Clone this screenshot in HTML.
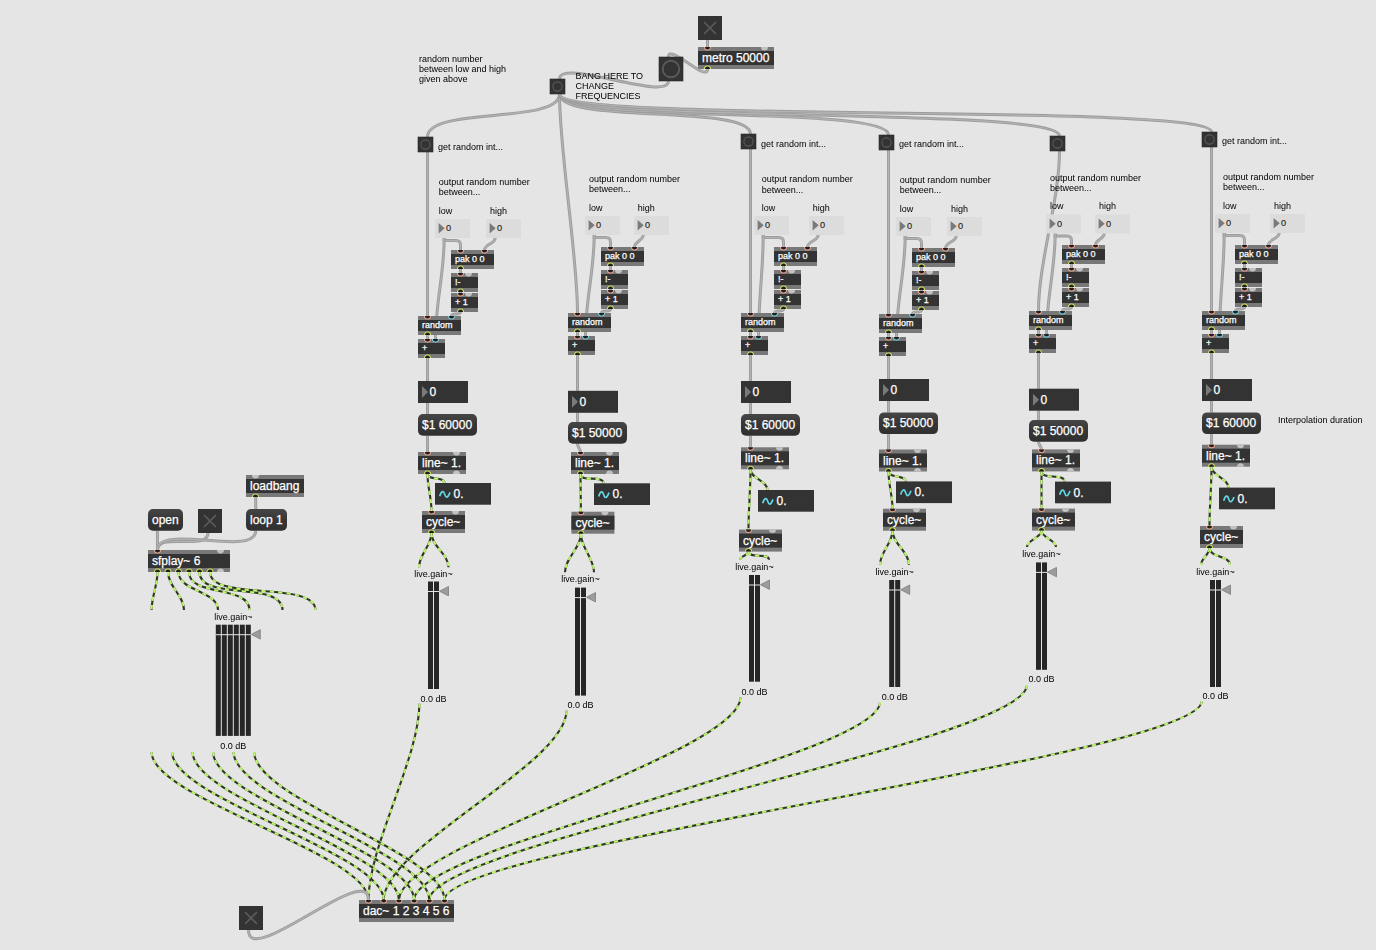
<!DOCTYPE html>
<html><head><meta charset="utf-8"><style>
html,body{margin:0;padding:0;background:#e5e5e5;width:1376px;height:950px;overflow:hidden}
svg{position:absolute;left:0;top:0;font-family:"Liberation Sans", sans-serif}
.cm{will-change:transform}
</style></head><body>
<svg width="1376" height="950" viewBox="0 0 1376 950">
<defs><linearGradient id="mg" x1="0" y1="0" x2="0" y2="1"><stop offset="0" stop-color="#464646"/><stop offset="0.5" stop-color="#363636"/><stop offset="1" stop-color="#303030"/></linearGradient></defs>
<rect width="1376" height="950" fill="#e5e5e5"/>
<g><path d="M707.50,40.00 C707.50,42.45 707.50,44.55 707.50,47.00" fill="none" stroke="#9c9c9c" stroke-width="3"/><path d="M707.50,40.00 C707.50,42.45 707.50,44.55 707.50,47.00" fill="none" stroke="#b3b3b3" stroke-width="1.2"/><path d="M707.50,69.00 C707.50,83.28 668.50,42.72 668.50,57.00" fill="none" stroke="#9c9c9c" stroke-width="3"/><path d="M707.50,69.00 C707.50,83.28 668.50,42.72 668.50,57.00" fill="none" stroke="#b3b3b3" stroke-width="1.2"/><path d="M668.50,81.00 C668.50,102.30 559.50,57.70 559.50,79.00" fill="none" stroke="#9c9c9c" stroke-width="3"/><path d="M668.50,81.00 C668.50,102.30 559.50,57.70 559.50,79.00" fill="none" stroke="#b3b3b3" stroke-width="1.2"/><path d="M559.50,94.00 C559.50,124.66 427.50,106.34 427.50,137.00" fill="none" stroke="#9c9c9c" stroke-width="3"/><path d="M559.50,94.00 C559.50,124.66 427.50,106.34 427.50,137.00" fill="none" stroke="#b3b3b3" stroke-width="1.2"/><path d="M427.50,152.00 C427.50,201.42 427.50,266.58 427.50,316.00" fill="none" stroke="#9c9c9c" stroke-width="3"/><path d="M427.50,152.00 C427.50,201.42 427.50,266.58 427.50,316.00" fill="none" stroke="#b3b3b3" stroke-width="1.2"/><path d="M444.20,238.00 L444.20,240.60 L455.90,240.60 Q460.50,240.60 460.50,245.20 L460.50,250.00" fill="none" stroke="#9c9c9c" stroke-width="3"/><path d="M444.20,238.00 L444.20,240.60 L455.90,240.60 Q460.50,240.60 460.50,245.20 L460.50,250.00" fill="none" stroke="#b3b3b3" stroke-width="1.2"/><path d="M444.20,238.00 C444.20,273.48 435.50,303.52 435.50,339.00" fill="none" stroke="#9c9c9c" stroke-width="3"/><path d="M444.20,238.00 C444.20,273.48 435.50,303.52 435.50,339.00" fill="none" stroke="#b3b3b3" stroke-width="1.2"/><path d="M495.20,238.00 C495.20,243.63 484.50,244.37 484.50,250.00" fill="none" stroke="#9c9c9c" stroke-width="3"/><path d="M495.20,238.00 C495.20,243.63 484.50,244.37 484.50,250.00" fill="none" stroke="#b3b3b3" stroke-width="1.2"/><path d="M460.50,269.00 C460.50,270.40 460.50,271.60 460.50,273.00" fill="none" stroke="#9c9c9c" stroke-width="3"/><path d="M460.50,269.00 C460.50,270.40 460.50,271.60 460.50,273.00" fill="none" stroke="#b3b3b3" stroke-width="1.2"/><path d="M460.50,292.00 C460.50,292.35 460.50,292.65 460.50,293.00" fill="none" stroke="#9c9c9c" stroke-width="3"/><path d="M460.50,292.00 C460.50,292.35 460.50,292.65 460.50,293.00" fill="none" stroke="#b3b3b3" stroke-width="1.2"/><path d="M460.50,312.00 C460.50,315.45 451.50,312.55 451.50,316.00" fill="none" stroke="#9c9c9c" stroke-width="3"/><path d="M460.50,312.00 C460.50,315.45 451.50,312.55 451.50,316.00" fill="none" stroke="#b3b3b3" stroke-width="1.2"/><path d="M427.50,335.00 C427.50,336.40 427.50,337.60 427.50,339.00" fill="none" stroke="#9c9c9c" stroke-width="3"/><path d="M427.50,335.00 C427.50,336.40 427.50,337.60 427.50,339.00" fill="none" stroke="#b3b3b3" stroke-width="1.2"/><path d="M427.50,358.00 C427.50,366.05 427.50,372.95 427.50,381.00" fill="none" stroke="#9c9c9c" stroke-width="3"/><path d="M427.50,358.00 C427.50,366.05 427.50,372.95 427.50,381.00" fill="none" stroke="#b3b3b3" stroke-width="1.2"/><path d="M427.50,403.00 C427.50,406.85 427.50,410.15 427.50,414.00" fill="none" stroke="#9c9c9c" stroke-width="3"/><path d="M427.50,403.00 C427.50,406.85 427.50,410.15 427.50,414.00" fill="none" stroke="#b3b3b3" stroke-width="1.2"/><path d="M427.50,435.70 C427.50,441.40 427.50,446.30 427.50,452.00" fill="none" stroke="#9c9c9c" stroke-width="3"/><path d="M427.50,435.70 C427.50,441.40 427.50,446.30 427.50,452.00" fill="none" stroke="#b3b3b3" stroke-width="1.2"/><path d="M427.50,474.00 C427.50,480.73 444.50,476.27 444.50,483.00" fill="none" stroke="#2f3825" stroke-width="2.1"/><path d="M427.50,474.00 C427.50,480.73 444.50,476.27 444.50,483.00" fill="none" stroke="#bdf56f" stroke-width="2.1" stroke-dasharray="4.2 4.2"/><path d="M427.50,474.00 C427.50,487.03 431.50,497.97 431.50,511.00" fill="none" stroke="#2f3825" stroke-width="2.1"/><path d="M427.50,474.00 C427.50,487.03 431.50,497.97 431.50,511.00" fill="none" stroke="#bdf56f" stroke-width="2.1" stroke-dasharray="4.2 4.2"/><path d="M431.50,533.00 C431.50,545.78 419.00,554.52 419.00,567.30" fill="none" stroke="#2f3825" stroke-width="2.1"/><path d="M431.50,533.00 C431.50,545.78 419.00,554.52 419.00,567.30" fill="none" stroke="#bdf56f" stroke-width="2.1" stroke-dasharray="4.2 4.2"/><path d="M431.50,533.00 C431.50,546.40 448.50,553.90 448.50,567.30" fill="none" stroke="#2f3825" stroke-width="2.1"/><path d="M431.50,533.00 C431.50,546.40 448.50,553.90 448.50,567.30" fill="none" stroke="#bdf56f" stroke-width="2.1" stroke-dasharray="4.2 4.2"/><path d="M419.40,703.70 C419.40,758.13 368.50,845.57 368.50,900.00" fill="none" stroke="#2f3825" stroke-width="2.1"/><path d="M419.40,703.70 C419.40,758.13 368.50,845.57 368.50,900.00" fill="none" stroke="#bdf56f" stroke-width="2.1" stroke-dasharray="4.2 4.2"/><path d="M559.50,94.00 C559.50,151.94 577.50,255.06 577.50,313.00" fill="none" stroke="#9c9c9c" stroke-width="3"/><path d="M559.50,94.00 C559.50,151.94 577.50,255.06 577.50,313.00" fill="none" stroke="#b3b3b3" stroke-width="1.2"/><path d="M594.20,235.00 L594.20,237.60 L605.90,237.60 Q610.50,237.60 610.50,242.20 L610.50,247.00" fill="none" stroke="#9c9c9c" stroke-width="3"/><path d="M594.20,235.00 L594.20,237.60 L605.90,237.60 Q610.50,237.60 610.50,242.20 L610.50,247.00" fill="none" stroke="#b3b3b3" stroke-width="1.2"/><path d="M594.20,235.00 C594.20,270.48 585.50,300.52 585.50,336.00" fill="none" stroke="#9c9c9c" stroke-width="3"/><path d="M594.20,235.00 C594.20,270.48 585.50,300.52 585.50,336.00" fill="none" stroke="#b3b3b3" stroke-width="1.2"/><path d="M643.20,235.00 C643.20,240.19 634.50,241.81 634.50,247.00" fill="none" stroke="#9c9c9c" stroke-width="3"/><path d="M643.20,235.00 C643.20,240.19 634.50,241.81 634.50,247.00" fill="none" stroke="#b3b3b3" stroke-width="1.2"/><path d="M610.50,266.00 C610.50,267.40 610.50,268.60 610.50,270.00" fill="none" stroke="#9c9c9c" stroke-width="3"/><path d="M610.50,266.00 C610.50,267.40 610.50,268.60 610.50,270.00" fill="none" stroke="#b3b3b3" stroke-width="1.2"/><path d="M610.50,289.00 C610.50,289.35 610.50,289.65 610.50,290.00" fill="none" stroke="#9c9c9c" stroke-width="3"/><path d="M610.50,289.00 C610.50,289.35 610.50,289.65 610.50,290.00" fill="none" stroke="#b3b3b3" stroke-width="1.2"/><path d="M610.50,309.00 C610.50,312.45 601.50,309.55 601.50,313.00" fill="none" stroke="#9c9c9c" stroke-width="3"/><path d="M610.50,309.00 C610.50,312.45 601.50,309.55 601.50,313.00" fill="none" stroke="#b3b3b3" stroke-width="1.2"/><path d="M577.50,332.00 C577.50,333.40 577.50,334.60 577.50,336.00" fill="none" stroke="#9c9c9c" stroke-width="3"/><path d="M577.50,332.00 C577.50,333.40 577.50,334.60 577.50,336.00" fill="none" stroke="#b3b3b3" stroke-width="1.2"/><path d="M577.50,355.00 C577.50,367.53 577.50,378.27 577.50,390.80" fill="none" stroke="#9c9c9c" stroke-width="3"/><path d="M577.50,355.00 C577.50,367.53 577.50,378.27 577.50,390.80" fill="none" stroke="#b3b3b3" stroke-width="1.2"/><path d="M577.50,412.80 C577.50,416.06 577.50,418.85 577.50,422.10" fill="none" stroke="#9c9c9c" stroke-width="3"/><path d="M577.50,412.80 C577.50,416.06 577.50,418.85 577.50,422.10" fill="none" stroke="#b3b3b3" stroke-width="1.2"/><path d="M577.50,443.80 C577.50,446.86 580.50,448.94 580.50,452.00" fill="none" stroke="#9c9c9c" stroke-width="3"/><path d="M577.50,443.80 C577.50,446.86 580.50,448.94 580.50,452.00" fill="none" stroke="#b3b3b3" stroke-width="1.2"/><path d="M580.50,474.00 C580.50,482.68 603.50,474.62 603.50,483.30" fill="none" stroke="#2f3825" stroke-width="2.1"/><path d="M580.50,474.00 C580.50,482.68 603.50,474.62 603.50,483.30" fill="none" stroke="#bdf56f" stroke-width="2.1" stroke-dasharray="4.2 4.2"/><path d="M580.50,474.00 C580.50,487.20 580.90,498.50 580.90,511.70" fill="none" stroke="#2f3825" stroke-width="2.1"/><path d="M580.50,474.00 C580.50,487.20 580.90,498.50 580.90,511.70" fill="none" stroke="#bdf56f" stroke-width="2.1" stroke-dasharray="4.2 4.2"/><path d="M580.90,533.70 C580.90,548.31 565.00,557.69 565.00,572.30" fill="none" stroke="#2f3825" stroke-width="2.1"/><path d="M580.90,533.70 C580.90,548.31 565.00,557.69 565.00,572.30" fill="none" stroke="#bdf56f" stroke-width="2.1" stroke-dasharray="4.2 4.2"/><path d="M580.90,533.70 C580.90,547.97 594.00,558.03 594.00,572.30" fill="none" stroke="#2f3825" stroke-width="2.1"/><path d="M580.90,533.70 C580.90,547.97 594.00,558.03 594.00,572.30" fill="none" stroke="#bdf56f" stroke-width="2.1" stroke-dasharray="4.2 4.2"/><path d="M566.50,710.80 C566.50,764.13 383.70,846.67 383.70,900.00" fill="none" stroke="#2f3825" stroke-width="2.1"/><path d="M566.50,710.80 C566.50,764.13 383.70,846.67 383.70,900.00" fill="none" stroke="#bdf56f" stroke-width="2.1" stroke-dasharray="4.2 4.2"/><path d="M559.50,94.00 C559.50,124.20 750.50,103.80 750.50,134.00" fill="none" stroke="#9c9c9c" stroke-width="3"/><path d="M559.50,94.00 C559.50,124.20 750.50,103.80 750.50,134.00" fill="none" stroke="#b3b3b3" stroke-width="1.2"/><path d="M750.50,149.00 C750.50,198.42 750.50,263.58 750.50,313.00" fill="none" stroke="#9c9c9c" stroke-width="3"/><path d="M750.50,149.00 C750.50,198.42 750.50,263.58 750.50,313.00" fill="none" stroke="#b3b3b3" stroke-width="1.2"/><path d="M763.20,235.00 L763.20,237.60 L778.90,237.60 Q783.50,237.60 783.50,242.20 L783.50,247.00" fill="none" stroke="#9c9c9c" stroke-width="3"/><path d="M763.20,235.00 L763.20,237.60 L778.90,237.60 Q783.50,237.60 783.50,242.20 L783.50,247.00" fill="none" stroke="#b3b3b3" stroke-width="1.2"/><path d="M763.20,235.00 C763.20,270.39 758.50,300.61 758.50,336.00" fill="none" stroke="#9c9c9c" stroke-width="3"/><path d="M763.20,235.00 C763.20,270.39 758.50,300.61 758.50,336.00" fill="none" stroke="#b3b3b3" stroke-width="1.2"/><path d="M818.20,235.00 C818.20,240.63 807.50,241.37 807.50,247.00" fill="none" stroke="#9c9c9c" stroke-width="3"/><path d="M818.20,235.00 C818.20,240.63 807.50,241.37 807.50,247.00" fill="none" stroke="#b3b3b3" stroke-width="1.2"/><path d="M783.50,266.00 C783.50,267.40 783.50,268.60 783.50,270.00" fill="none" stroke="#9c9c9c" stroke-width="3"/><path d="M783.50,266.00 C783.50,267.40 783.50,268.60 783.50,270.00" fill="none" stroke="#b3b3b3" stroke-width="1.2"/><path d="M783.50,289.00 C783.50,289.35 783.50,289.65 783.50,290.00" fill="none" stroke="#9c9c9c" stroke-width="3"/><path d="M783.50,289.00 C783.50,289.35 783.50,289.65 783.50,290.00" fill="none" stroke="#b3b3b3" stroke-width="1.2"/><path d="M783.50,309.00 C783.50,312.45 774.50,309.55 774.50,313.00" fill="none" stroke="#9c9c9c" stroke-width="3"/><path d="M783.50,309.00 C783.50,312.45 774.50,309.55 774.50,313.00" fill="none" stroke="#b3b3b3" stroke-width="1.2"/><path d="M750.50,332.00 C750.50,333.40 750.50,334.60 750.50,336.00" fill="none" stroke="#9c9c9c" stroke-width="3"/><path d="M750.50,332.00 C750.50,333.40 750.50,334.60 750.50,336.00" fill="none" stroke="#b3b3b3" stroke-width="1.2"/><path d="M750.50,355.00 C750.50,364.10 750.50,371.90 750.50,381.00" fill="none" stroke="#9c9c9c" stroke-width="3"/><path d="M750.50,355.00 C750.50,364.10 750.50,371.90 750.50,381.00" fill="none" stroke="#b3b3b3" stroke-width="1.2"/><path d="M750.50,403.00 C750.50,406.85 750.50,410.15 750.50,414.00" fill="none" stroke="#9c9c9c" stroke-width="3"/><path d="M750.50,403.00 C750.50,406.85 750.50,410.15 750.50,414.00" fill="none" stroke="#b3b3b3" stroke-width="1.2"/><path d="M750.50,435.70 C750.50,439.76 750.50,443.24 750.50,447.30" fill="none" stroke="#9c9c9c" stroke-width="3"/><path d="M750.50,435.70 C750.50,439.76 750.50,443.24 750.50,447.30" fill="none" stroke="#b3b3b3" stroke-width="1.2"/><path d="M750.50,469.30 C750.50,478.68 767.50,480.62 767.50,490.00" fill="none" stroke="#2f3825" stroke-width="2.1"/><path d="M750.50,469.30 C750.50,478.68 767.50,480.62 767.50,490.00" fill="none" stroke="#bdf56f" stroke-width="2.1" stroke-dasharray="4.2 4.2"/><path d="M750.50,469.30 C750.50,490.42 748.50,508.48 748.50,529.60" fill="none" stroke="#2f3825" stroke-width="2.1"/><path d="M750.50,469.30 C750.50,490.42 748.50,508.48 748.50,529.60" fill="none" stroke="#bdf56f" stroke-width="2.1" stroke-dasharray="4.2 4.2"/><path d="M748.50,551.60 C748.50,555.73 740.00,555.67 740.00,559.80" fill="none" stroke="#2f3825" stroke-width="2.1"/><path d="M748.50,551.60 C748.50,555.73 740.00,555.67 740.00,559.80" fill="none" stroke="#bdf56f" stroke-width="2.1" stroke-dasharray="4.2 4.2"/><path d="M748.50,551.60 C748.50,559.33 769.00,552.07 769.00,559.80" fill="none" stroke="#2f3825" stroke-width="2.1"/><path d="M748.50,551.60 C748.50,559.33 769.00,552.07 769.00,559.80" fill="none" stroke="#bdf56f" stroke-width="2.1" stroke-dasharray="4.2 4.2"/><path d="M740.50,697.60 C740.50,752.97 398.90,844.63 398.90,900.00" fill="none" stroke="#2f3825" stroke-width="2.1"/><path d="M740.50,697.60 C740.50,752.97 398.90,844.63 398.90,900.00" fill="none" stroke="#bdf56f" stroke-width="2.1" stroke-dasharray="4.2 4.2"/><path d="M559.50,94.00 C559.50,124.36 888.50,104.64 888.50,135.00" fill="none" stroke="#9c9c9c" stroke-width="3"/><path d="M559.50,94.00 C559.50,124.36 888.50,104.64 888.50,135.00" fill="none" stroke="#b3b3b3" stroke-width="1.2"/><path d="M888.50,150.00 C888.50,199.42 888.50,264.58 888.50,314.00" fill="none" stroke="#9c9c9c" stroke-width="3"/><path d="M888.50,150.00 C888.50,199.42 888.50,264.58 888.50,314.00" fill="none" stroke="#b3b3b3" stroke-width="1.2"/><path d="M905.20,236.00 L905.20,238.60 L916.90,238.60 Q921.50,238.60 921.50,243.20 L921.50,248.00" fill="none" stroke="#9c9c9c" stroke-width="3"/><path d="M905.20,236.00 L905.20,238.60 L916.90,238.60 Q921.50,238.60 921.50,243.20 L921.50,248.00" fill="none" stroke="#b3b3b3" stroke-width="1.2"/><path d="M905.20,236.00 C905.20,271.48 896.50,301.52 896.50,337.00" fill="none" stroke="#9c9c9c" stroke-width="3"/><path d="M905.20,236.00 C905.20,271.48 896.50,301.52 896.50,337.00" fill="none" stroke="#b3b3b3" stroke-width="1.2"/><path d="M956.20,236.00 C956.20,241.63 945.50,242.37 945.50,248.00" fill="none" stroke="#9c9c9c" stroke-width="3"/><path d="M956.20,236.00 C956.20,241.63 945.50,242.37 945.50,248.00" fill="none" stroke="#b3b3b3" stroke-width="1.2"/><path d="M921.50,267.00 C921.50,268.40 921.50,269.60 921.50,271.00" fill="none" stroke="#9c9c9c" stroke-width="3"/><path d="M921.50,267.00 C921.50,268.40 921.50,269.60 921.50,271.00" fill="none" stroke="#b3b3b3" stroke-width="1.2"/><path d="M921.50,290.00 C921.50,290.35 921.50,290.65 921.50,291.00" fill="none" stroke="#9c9c9c" stroke-width="3"/><path d="M921.50,290.00 C921.50,290.35 921.50,290.65 921.50,291.00" fill="none" stroke="#b3b3b3" stroke-width="1.2"/><path d="M921.50,310.00 C921.50,313.45 912.50,310.55 912.50,314.00" fill="none" stroke="#9c9c9c" stroke-width="3"/><path d="M921.50,310.00 C921.50,313.45 912.50,310.55 912.50,314.00" fill="none" stroke="#b3b3b3" stroke-width="1.2"/><path d="M888.50,333.00 C888.50,334.40 888.50,335.60 888.50,337.00" fill="none" stroke="#9c9c9c" stroke-width="3"/><path d="M888.50,333.00 C888.50,334.40 888.50,335.60 888.50,337.00" fill="none" stroke="#b3b3b3" stroke-width="1.2"/><path d="M888.50,356.00 C888.50,364.05 888.50,370.95 888.50,379.00" fill="none" stroke="#9c9c9c" stroke-width="3"/><path d="M888.50,356.00 C888.50,364.05 888.50,370.95 888.50,379.00" fill="none" stroke="#b3b3b3" stroke-width="1.2"/><path d="M888.50,401.00 C888.50,404.99 888.50,408.41 888.50,412.40" fill="none" stroke="#9c9c9c" stroke-width="3"/><path d="M888.50,401.00 C888.50,404.99 888.50,408.41 888.50,412.40" fill="none" stroke="#b3b3b3" stroke-width="1.2"/><path d="M888.50,434.10 C888.50,439.49 888.50,444.11 888.50,449.50" fill="none" stroke="#9c9c9c" stroke-width="3"/><path d="M888.50,434.10 C888.50,439.49 888.50,444.11 888.50,449.50" fill="none" stroke="#b3b3b3" stroke-width="1.2"/><path d="M888.50,471.50 C888.50,478.39 905.50,474.51 905.50,481.40" fill="none" stroke="#2f3825" stroke-width="2.1"/><path d="M888.50,471.50 C888.50,478.39 905.50,474.51 905.50,481.40" fill="none" stroke="#bdf56f" stroke-width="2.1" stroke-dasharray="4.2 4.2"/><path d="M888.50,471.50 C888.50,484.60 892.50,495.60 892.50,508.70" fill="none" stroke="#2f3825" stroke-width="2.1"/><path d="M888.50,471.50 C888.50,484.60 892.50,495.60 892.50,508.70" fill="none" stroke="#bdf56f" stroke-width="2.1" stroke-dasharray="4.2 4.2"/><path d="M892.50,530.70 C892.50,543.38 880.00,552.02 880.00,564.70" fill="none" stroke="#2f3825" stroke-width="2.1"/><path d="M892.50,530.70 C892.50,543.38 880.00,552.02 880.00,564.70" fill="none" stroke="#bdf56f" stroke-width="2.1" stroke-dasharray="4.2 4.2"/><path d="M892.50,530.70 C892.50,543.93 909.00,551.47 909.00,564.70" fill="none" stroke="#2f3825" stroke-width="2.1"/><path d="M892.50,530.70 C892.50,543.93 909.00,551.47 909.00,564.70" fill="none" stroke="#bdf56f" stroke-width="2.1" stroke-dasharray="4.2 4.2"/><path d="M880.00,702.00 C880.00,756.69 414.10,845.31 414.10,900.00" fill="none" stroke="#2f3825" stroke-width="2.1"/><path d="M880.00,702.00 C880.00,756.69 414.10,845.31 414.10,900.00" fill="none" stroke="#bdf56f" stroke-width="2.1" stroke-dasharray="4.2 4.2"/><path d="M559.50,94.00 C559.50,124.51 1059.50,105.49 1059.50,136.00" fill="none" stroke="#9c9c9c" stroke-width="3"/><path d="M559.50,94.00 C559.50,124.51 1059.50,105.49 1059.50,136.00" fill="none" stroke="#b3b3b3" stroke-width="1.2"/><path d="M1059.50,151.00 C1059.50,199.80 1038.50,262.20 1038.50,311.00" fill="none" stroke="#9c9c9c" stroke-width="3"/><path d="M1059.50,151.00 C1059.50,199.80 1038.50,262.20 1038.50,311.00" fill="none" stroke="#b3b3b3" stroke-width="1.2"/><path d="M1055.20,233.40 L1055.20,236.00 L1066.90,236.00 Q1071.50,236.00 1071.50,240.60 L1071.50,245.00" fill="none" stroke="#9c9c9c" stroke-width="3"/><path d="M1055.20,233.40 L1055.20,236.00 L1066.90,236.00 Q1071.50,236.00 1071.50,240.60 L1071.50,245.00" fill="none" stroke="#b3b3b3" stroke-width="1.2"/><path d="M1055.20,233.40 C1055.20,268.74 1046.50,298.66 1046.50,334.00" fill="none" stroke="#9c9c9c" stroke-width="3"/><path d="M1055.20,233.40 C1055.20,268.74 1046.50,298.66 1046.50,334.00" fill="none" stroke="#b3b3b3" stroke-width="1.2"/><path d="M1104.20,233.40 C1104.20,238.48 1095.50,239.92 1095.50,245.00" fill="none" stroke="#9c9c9c" stroke-width="3"/><path d="M1104.20,233.40 C1104.20,238.48 1095.50,239.92 1095.50,245.00" fill="none" stroke="#b3b3b3" stroke-width="1.2"/><path d="M1071.50,264.00 C1071.50,265.40 1071.50,266.60 1071.50,268.00" fill="none" stroke="#9c9c9c" stroke-width="3"/><path d="M1071.50,264.00 C1071.50,265.40 1071.50,266.60 1071.50,268.00" fill="none" stroke="#b3b3b3" stroke-width="1.2"/><path d="M1071.50,287.00 C1071.50,287.35 1071.50,287.65 1071.50,288.00" fill="none" stroke="#9c9c9c" stroke-width="3"/><path d="M1071.50,287.00 C1071.50,287.35 1071.50,287.65 1071.50,288.00" fill="none" stroke="#b3b3b3" stroke-width="1.2"/><path d="M1071.50,307.00 C1071.50,310.45 1062.50,307.55 1062.50,311.00" fill="none" stroke="#9c9c9c" stroke-width="3"/><path d="M1071.50,307.00 C1071.50,310.45 1062.50,307.55 1062.50,311.00" fill="none" stroke="#b3b3b3" stroke-width="1.2"/><path d="M1038.50,330.00 C1038.50,331.40 1038.50,332.60 1038.50,334.00" fill="none" stroke="#9c9c9c" stroke-width="3"/><path d="M1038.50,330.00 C1038.50,331.40 1038.50,332.60 1038.50,334.00" fill="none" stroke="#b3b3b3" stroke-width="1.2"/><path d="M1038.50,353.00 C1038.50,365.50 1038.50,376.20 1038.50,388.70" fill="none" stroke="#9c9c9c" stroke-width="3"/><path d="M1038.50,353.00 C1038.50,365.50 1038.50,376.20 1038.50,388.70" fill="none" stroke="#b3b3b3" stroke-width="1.2"/><path d="M1038.50,410.70 C1038.50,413.99 1038.50,416.81 1038.50,420.10" fill="none" stroke="#9c9c9c" stroke-width="3"/><path d="M1038.50,410.70 C1038.50,413.99 1038.50,416.81 1038.50,420.10" fill="none" stroke="#b3b3b3" stroke-width="1.2"/><path d="M1038.50,441.80 C1038.50,444.66 1041.50,446.54 1041.50,449.40" fill="none" stroke="#9c9c9c" stroke-width="3"/><path d="M1038.50,441.80 C1038.50,444.66 1041.50,446.54 1041.50,449.40" fill="none" stroke="#b3b3b3" stroke-width="1.2"/><path d="M1041.50,471.40 C1041.50,480.21 1064.50,472.79 1064.50,481.60" fill="none" stroke="#2f3825" stroke-width="2.1"/><path d="M1041.50,471.40 C1041.50,480.21 1064.50,472.79 1064.50,481.60" fill="none" stroke="#bdf56f" stroke-width="2.1" stroke-dasharray="4.2 4.2"/><path d="M1041.50,471.40 C1041.50,484.42 1041.50,495.58 1041.50,508.60" fill="none" stroke="#2f3825" stroke-width="2.1"/><path d="M1041.50,471.40 C1041.50,484.42 1041.50,495.58 1041.50,508.60" fill="none" stroke="#bdf56f" stroke-width="2.1" stroke-dasharray="4.2 4.2"/><path d="M1041.50,530.60 C1041.50,538.26 1027.00,539.34 1027.00,547.00" fill="none" stroke="#2f3825" stroke-width="2.1"/><path d="M1041.50,530.60 C1041.50,538.26 1027.00,539.34 1027.00,547.00" fill="none" stroke="#bdf56f" stroke-width="2.1" stroke-dasharray="4.2 4.2"/><path d="M1041.50,530.60 C1041.50,538.26 1056.00,539.34 1056.00,547.00" fill="none" stroke="#2f3825" stroke-width="2.1"/><path d="M1041.50,530.60 C1041.50,538.26 1056.00,539.34 1056.00,547.00" fill="none" stroke="#bdf56f" stroke-width="2.1" stroke-dasharray="4.2 4.2"/><path d="M1027.00,685.00 C1027.00,742.33 429.30,842.67 429.30,900.00" fill="none" stroke="#2f3825" stroke-width="2.1"/><path d="M1027.00,685.00 C1027.00,742.33 429.30,842.67 429.30,900.00" fill="none" stroke="#bdf56f" stroke-width="2.1" stroke-dasharray="4.2 4.2"/><path d="M559.50,94.00 C559.50,123.89 1211.50,102.11 1211.50,132.00" fill="none" stroke="#9c9c9c" stroke-width="3"/><path d="M559.50,94.00 C559.50,123.89 1211.50,102.11 1211.50,132.00" fill="none" stroke="#b3b3b3" stroke-width="1.2"/><path d="M1211.50,147.00 C1211.50,196.42 1211.50,261.58 1211.50,311.00" fill="none" stroke="#9c9c9c" stroke-width="3"/><path d="M1211.50,147.00 C1211.50,196.42 1211.50,261.58 1211.50,311.00" fill="none" stroke="#b3b3b3" stroke-width="1.2"/><path d="M1224.20,233.00 L1224.20,235.60 L1239.90,235.60 Q1244.50,235.60 1244.50,240.20 L1244.50,245.00" fill="none" stroke="#9c9c9c" stroke-width="3"/><path d="M1224.20,233.00 L1224.20,235.60 L1239.90,235.60 Q1244.50,235.60 1244.50,240.20 L1244.50,245.00" fill="none" stroke="#b3b3b3" stroke-width="1.2"/><path d="M1224.20,233.00 C1224.20,268.39 1219.50,298.61 1219.50,334.00" fill="none" stroke="#9c9c9c" stroke-width="3"/><path d="M1224.20,233.00 C1224.20,268.39 1219.50,298.61 1219.50,334.00" fill="none" stroke="#b3b3b3" stroke-width="1.2"/><path d="M1279.20,233.00 C1279.20,238.63 1268.50,239.37 1268.50,245.00" fill="none" stroke="#9c9c9c" stroke-width="3"/><path d="M1279.20,233.00 C1279.20,238.63 1268.50,239.37 1268.50,245.00" fill="none" stroke="#b3b3b3" stroke-width="1.2"/><path d="M1244.50,264.00 C1244.50,265.40 1244.50,266.60 1244.50,268.00" fill="none" stroke="#9c9c9c" stroke-width="3"/><path d="M1244.50,264.00 C1244.50,265.40 1244.50,266.60 1244.50,268.00" fill="none" stroke="#b3b3b3" stroke-width="1.2"/><path d="M1244.50,287.00 C1244.50,287.35 1244.50,287.65 1244.50,288.00" fill="none" stroke="#9c9c9c" stroke-width="3"/><path d="M1244.50,287.00 C1244.50,287.35 1244.50,287.65 1244.50,288.00" fill="none" stroke="#b3b3b3" stroke-width="1.2"/><path d="M1244.50,307.00 C1244.50,310.45 1235.50,307.55 1235.50,311.00" fill="none" stroke="#9c9c9c" stroke-width="3"/><path d="M1244.50,307.00 C1244.50,310.45 1235.50,307.55 1235.50,311.00" fill="none" stroke="#b3b3b3" stroke-width="1.2"/><path d="M1211.50,330.00 C1211.50,331.40 1211.50,332.60 1211.50,334.00" fill="none" stroke="#9c9c9c" stroke-width="3"/><path d="M1211.50,330.00 C1211.50,331.40 1211.50,332.60 1211.50,334.00" fill="none" stroke="#b3b3b3" stroke-width="1.2"/><path d="M1211.50,353.00 C1211.50,362.10 1211.50,369.90 1211.50,379.00" fill="none" stroke="#9c9c9c" stroke-width="3"/><path d="M1211.50,353.00 C1211.50,362.10 1211.50,369.90 1211.50,379.00" fill="none" stroke="#b3b3b3" stroke-width="1.2"/><path d="M1211.50,401.00 C1211.50,404.99 1211.50,408.41 1211.50,412.40" fill="none" stroke="#9c9c9c" stroke-width="3"/><path d="M1211.50,401.00 C1211.50,404.99 1211.50,408.41 1211.50,412.40" fill="none" stroke="#b3b3b3" stroke-width="1.2"/><path d="M1211.50,434.10 C1211.50,437.81 1211.50,440.99 1211.50,444.70" fill="none" stroke="#9c9c9c" stroke-width="3"/><path d="M1211.50,434.10 C1211.50,437.81 1211.50,440.99 1211.50,444.70" fill="none" stroke="#b3b3b3" stroke-width="1.2"/><path d="M1211.50,466.70 C1211.50,476.13 1228.50,478.17 1228.50,487.60" fill="none" stroke="#2f3825" stroke-width="2.1"/><path d="M1211.50,466.70 C1211.50,476.13 1228.50,478.17 1228.50,487.60" fill="none" stroke="#bdf56f" stroke-width="2.1" stroke-dasharray="4.2 4.2"/><path d="M1211.50,466.70 C1211.50,487.47 1209.50,505.23 1209.50,526.00" fill="none" stroke="#2f3825" stroke-width="2.1"/><path d="M1211.50,466.70 C1211.50,487.47 1209.50,505.23 1209.50,526.00" fill="none" stroke="#bdf56f" stroke-width="2.1" stroke-dasharray="4.2 4.2"/><path d="M1209.50,548.00 C1209.50,554.65 1201.00,558.35 1201.00,565.00" fill="none" stroke="#2f3825" stroke-width="2.1"/><path d="M1209.50,548.00 C1209.50,554.65 1201.00,558.35 1201.00,565.00" fill="none" stroke="#bdf56f" stroke-width="2.1" stroke-dasharray="4.2 4.2"/><path d="M1209.50,548.00 C1209.50,557.32 1230.00,555.68 1230.00,565.00" fill="none" stroke="#2f3825" stroke-width="2.1"/><path d="M1209.50,548.00 C1209.50,557.32 1230.00,555.68 1230.00,565.00" fill="none" stroke="#bdf56f" stroke-width="2.1" stroke-dasharray="4.2 4.2"/><path d="M1201.90,700.90 C1201.90,755.76 444.50,845.14 444.50,900.00" fill="none" stroke="#2f3825" stroke-width="2.1"/><path d="M1201.90,700.90 C1201.90,755.76 444.50,845.14 444.50,900.00" fill="none" stroke="#bdf56f" stroke-width="2.1" stroke-dasharray="4.2 4.2"/><path d="M255.70,497.00 C255.70,501.20 255.70,504.80 255.70,509.00" fill="none" stroke="#9c9c9c" stroke-width="3"/><path d="M255.70,497.00 C255.70,501.20 255.70,504.80 255.70,509.00" fill="none" stroke="#b3b3b3" stroke-width="1.2"/><path d="M157.40,530.70 C157.40,537.46 157.50,543.24 157.50,550.00" fill="none" stroke="#9c9c9c" stroke-width="3"/><path d="M157.40,530.70 C157.40,537.46 157.50,543.24 157.50,550.00" fill="none" stroke="#b3b3b3" stroke-width="1.2"/><path d="M208.00,533.00 C208.00,551.65 157.50,531.35 157.50,550.00" fill="none" stroke="#9c9c9c" stroke-width="3"/><path d="M208.00,533.00 C208.00,551.65 157.50,531.35 157.50,550.00" fill="none" stroke="#b3b3b3" stroke-width="1.2"/><path d="M255.70,530.70 C255.70,557.69 157.50,523.01 157.50,550.00" fill="none" stroke="#9c9c9c" stroke-width="3"/><path d="M255.70,530.70 C255.70,557.69 157.50,523.01 157.50,550.00" fill="none" stroke="#b3b3b3" stroke-width="1.2"/><path d="M157.50,572.00 C157.50,585.46 151.60,596.54 151.60,610.00" fill="none" stroke="#2f3825" stroke-width="2.1"/><path d="M157.50,572.00 C157.50,585.46 151.60,596.54 151.60,610.00" fill="none" stroke="#bdf56f" stroke-width="2.1" stroke-dasharray="4.2 4.2"/><path d="M168.00,572.00 C168.00,586.43 184.00,595.57 184.00,610.00" fill="none" stroke="#2f3825" stroke-width="2.1"/><path d="M168.00,572.00 C168.00,586.43 184.00,595.57 184.00,610.00" fill="none" stroke="#bdf56f" stroke-width="2.1" stroke-dasharray="4.2 4.2"/><path d="M178.50,572.00 C178.50,591.18 218.00,590.82 218.00,610.00" fill="none" stroke="#2f3825" stroke-width="2.1"/><path d="M178.50,572.00 C178.50,591.18 218.00,590.82 218.00,610.00" fill="none" stroke="#bdf56f" stroke-width="2.1" stroke-dasharray="4.2 4.2"/><path d="M189.00,572.00 C189.00,597.01 249.50,584.99 249.50,610.00" fill="none" stroke="#2f3825" stroke-width="2.1"/><path d="M189.00,572.00 C189.00,597.01 249.50,584.99 249.50,610.00" fill="none" stroke="#bdf56f" stroke-width="2.1" stroke-dasharray="4.2 4.2"/><path d="M199.50,572.00 C199.50,601.89 282.50,580.11 282.50,610.00" fill="none" stroke="#2f3825" stroke-width="2.1"/><path d="M199.50,572.00 C199.50,601.89 282.50,580.11 282.50,610.00" fill="none" stroke="#bdf56f" stroke-width="2.1" stroke-dasharray="4.2 4.2"/><path d="M210.00,572.00 C210.00,601.89 315.40,580.11 315.40,610.00" fill="none" stroke="#2f3825" stroke-width="2.1"/><path d="M210.00,572.00 C210.00,601.89 315.40,580.11 315.40,610.00" fill="none" stroke="#bdf56f" stroke-width="2.1" stroke-dasharray="4.2 4.2"/><path d="M151.60,752.00 C151.60,798.94 368.50,853.06 368.50,900.00" fill="none" stroke="#2f3825" stroke-width="2.1"/><path d="M151.60,752.00 C151.60,798.94 368.50,853.06 368.50,900.00" fill="none" stroke="#bdf56f" stroke-width="2.1" stroke-dasharray="4.2 4.2"/><path d="M172.10,752.00 C172.10,798.94 383.70,853.06 383.70,900.00" fill="none" stroke="#2f3825" stroke-width="2.1"/><path d="M172.10,752.00 C172.10,798.94 383.70,853.06 383.70,900.00" fill="none" stroke="#bdf56f" stroke-width="2.1" stroke-dasharray="4.2 4.2"/><path d="M192.60,752.00 C192.60,798.94 398.90,853.06 398.90,900.00" fill="none" stroke="#2f3825" stroke-width="2.1"/><path d="M192.60,752.00 C192.60,798.94 398.90,853.06 398.90,900.00" fill="none" stroke="#bdf56f" stroke-width="2.1" stroke-dasharray="4.2 4.2"/><path d="M213.10,752.00 C213.10,798.94 414.10,853.06 414.10,900.00" fill="none" stroke="#2f3825" stroke-width="2.1"/><path d="M213.10,752.00 C213.10,798.94 414.10,853.06 414.10,900.00" fill="none" stroke="#bdf56f" stroke-width="2.1" stroke-dasharray="4.2 4.2"/><path d="M233.60,752.00 C233.60,798.94 429.30,853.06 429.30,900.00" fill="none" stroke="#2f3825" stroke-width="2.1"/><path d="M233.60,752.00 C233.60,798.94 429.30,853.06 429.30,900.00" fill="none" stroke="#bdf56f" stroke-width="2.1" stroke-dasharray="4.2 4.2"/><path d="M254.10,752.00 C254.10,798.94 444.50,853.06 444.50,900.00" fill="none" stroke="#2f3825" stroke-width="2.1"/><path d="M254.10,752.00 C254.10,798.94 444.50,853.06 444.50,900.00" fill="none" stroke="#bdf56f" stroke-width="2.1" stroke-dasharray="4.2 4.2"/><path d="M248.50,930.00 C248.50,969.50 368.50,860.50 368.50,900.00" fill="none" stroke="#9c9c9c" stroke-width="3"/><path d="M248.50,930.00 C248.50,969.50 368.50,860.50 368.50,900.00" fill="none" stroke="#b3b3b3" stroke-width="1.2"/></g>
<g><rect x="698" y="16" width="24" height="24" fill="#333333"/><path d="M704,22 L716,34 M716,22 L704,34" stroke="#5c5c5c" stroke-width="1.6"/><rect x="698" y="47" width="76" height="22" fill="#787878"/><rect x="698" y="51" width="76" height="14" fill="#333333"/><path d="M704.00,47 A3.5,3.5 0 0 0 711.00,47 Z" fill="#f2a38e"/><path d="M705.00,47 A2.5,2.5 0 0 0 710.00,47 Z" fill="#1f1f1f"/><path d="M761.00,47 A3.5,3.5 0 0 0 768.00,47 Z" fill="#c2c2c2"/><path d="M704.00,69 A3.5,3.5 0 0 1 711.00,69 Z" fill="#cfe05a"/><path d="M705.00,69 A2.5,2.5 0 0 1 710.00,69 Z" fill="#1f1f1f"/><text x="702.00" y="62.00" font-size="12" fill="#ffffff" stroke="#ffffff" stroke-width="0.25" text-anchor="start">metro 50000</text><rect x="659" y="57" width="24" height="24" fill="#333333" stroke="#292929" stroke-width="0.6"/><circle cx="671.0" cy="69.0" r="8.3" fill="none" stroke="#5a5a5a" stroke-width="1.9"/><rect x="550" y="79" width="15" height="15" fill="#333333" stroke="#292929" stroke-width="0.6"/><circle cx="557.5" cy="86.5" r="4.6" fill="none" stroke="#5a5a5a" stroke-width="1.1"/><rect x="418" y="137" width="15" height="15" fill="#333333" stroke="#292929" stroke-width="0.6"/><circle cx="425.5" cy="144.5" r="4.6" fill="none" stroke="#5a5a5a" stroke-width="1.1"/><rect x="435" y="219" width="35" height="19" fill="#dcdcdc"/><path d="M438.6,223 L444.7,228.3 L438.6,233.5 Z" fill="#7a7a7a"/><text x="446.00" y="231.30" font-size="9.2" fill="#2a2410" stroke="#2a2410" stroke-width="0.15" text-anchor="start">0</text><rect x="486" y="219" width="35" height="19" fill="#dcdcdc"/><path d="M489.6,223 L495.7,228.3 L489.6,233.5 Z" fill="#7a7a7a"/><text x="497.00" y="231.30" font-size="9.2" fill="#2a2410" stroke="#2a2410" stroke-width="0.15" text-anchor="start">0</text><rect x="451" y="250" width="43" height="19" fill="#787878"/><rect x="451" y="254" width="43" height="11" fill="#333333"/><path d="M457.00,250 A3.5,3.5 0 0 0 464.00,250 Z" fill="#f2a38e"/><path d="M458.00,250 A2.5,2.5 0 0 0 463.00,250 Z" fill="#1f1f1f"/><path d="M481.00,250 A3.5,3.5 0 0 0 488.00,250 Z" fill="#f2a38e"/><path d="M482.00,250 A2.5,2.5 0 0 0 487.00,250 Z" fill="#1f1f1f"/><path d="M457.00,269 A3.5,3.5 0 0 1 464.00,269 Z" fill="#cfe05a"/><path d="M458.00,269 A2.5,2.5 0 0 1 463.00,269 Z" fill="#1f1f1f"/><text x="455.00" y="262.00" font-size="9" fill="#ffffff" stroke="#ffffff" stroke-width="0.25" text-anchor="start">pak 0 0</text><rect x="451" y="273" width="27" height="19" fill="#787878"/><rect x="451" y="277" width="27" height="11" fill="#333333"/><path d="M457.00,273 A3.5,3.5 0 0 0 464.00,273 Z" fill="#f2a38e"/><path d="M458.00,273 A2.5,2.5 0 0 0 463.00,273 Z" fill="#1f1f1f"/><path d="M465.00,273 A3.5,3.5 0 0 0 472.00,273 Z" fill="#c2c2c2"/><path d="M457.00,292 A3.5,3.5 0 0 1 464.00,292 Z" fill="#cfe05a"/><path d="M458.00,292 A2.5,2.5 0 0 1 463.00,292 Z" fill="#1f1f1f"/><text x="455.00" y="285.00" font-size="9" fill="#ffffff" stroke="#ffffff" stroke-width="0.25" text-anchor="start">!-</text><rect x="451" y="293" width="27" height="19" fill="#787878"/><rect x="451" y="297" width="27" height="11" fill="#333333"/><path d="M457.00,293 A3.5,3.5 0 0 0 464.00,293 Z" fill="#f2a38e"/><path d="M458.00,293 A2.5,2.5 0 0 0 463.00,293 Z" fill="#1f1f1f"/><path d="M465.00,293 A3.5,3.5 0 0 0 472.00,293 Z" fill="#c2c2c2"/><path d="M457.00,312 A3.5,3.5 0 0 1 464.00,312 Z" fill="#cfe05a"/><path d="M458.00,312 A2.5,2.5 0 0 1 463.00,312 Z" fill="#1f1f1f"/><text x="455.00" y="305.00" font-size="9" fill="#ffffff" stroke="#ffffff" stroke-width="0.25" text-anchor="start">+ 1</text><rect x="418" y="316" width="43" height="19" fill="#787878"/><rect x="418" y="320" width="43" height="11" fill="#333333"/><path d="M424.00,316 A3.5,3.5 0 0 0 431.00,316 Z" fill="#f2a38e"/><path d="M425.00,316 A2.5,2.5 0 0 0 430.00,316 Z" fill="#1f1f1f"/><path d="M448.00,316 A3.5,3.5 0 0 0 455.00,316 Z" fill="#76d3e3"/><path d="M449.00,316 A2.5,2.5 0 0 0 454.00,316 Z" fill="#1f1f1f"/><path d="M424.00,335 A3.5,3.5 0 0 1 431.00,335 Z" fill="#cfe05a"/><path d="M425.00,335 A2.5,2.5 0 0 1 430.00,335 Z" fill="#1f1f1f"/><text x="422.00" y="328.00" font-size="9" fill="#ffffff" stroke="#ffffff" stroke-width="0.25" text-anchor="start">random</text><rect x="418" y="339" width="27" height="19" fill="#787878"/><rect x="418" y="343" width="27" height="11" fill="#333333"/><path d="M424.00,339 A3.5,3.5 0 0 0 431.00,339 Z" fill="#f2a38e"/><path d="M425.00,339 A2.5,2.5 0 0 0 430.00,339 Z" fill="#1f1f1f"/><path d="M432.00,339 A3.5,3.5 0 0 0 439.00,339 Z" fill="#76d3e3"/><path d="M433.00,339 A2.5,2.5 0 0 0 438.00,339 Z" fill="#1f1f1f"/><path d="M424.00,358 A3.5,3.5 0 0 1 431.00,358 Z" fill="#cfe05a"/><path d="M425.00,358 A2.5,2.5 0 0 1 430.00,358 Z" fill="#1f1f1f"/><text x="422.00" y="351.00" font-size="9" fill="#ffffff" stroke="#ffffff" stroke-width="0.25" text-anchor="start">+</text><rect x="418" y="381" width="50" height="22" fill="#333333"/><path d="M422,386 L428,392.0 L422,398 Z" fill="#7a7a7a"/><text x="429.50" y="396.00" font-size="12" fill="#ffffff" stroke="#ffffff" stroke-width="0.25" text-anchor="start">0</text><rect x="418" y="414" width="59" height="21.7" rx="5" ry="5" fill="url(#mg)"/><text x="422.00" y="428.80" font-size="12" fill="#ffffff" stroke="#ffffff" stroke-width="0.25" text-anchor="start">$1 60000</text><rect x="418" y="452" width="48" height="22" fill="#787878"/><rect x="418" y="456" width="48" height="14" fill="#333333"/><path d="M424.00,452 A3.5,3.5 0 0 0 431.00,452 Z" fill="#f2a38e"/><path d="M425.00,452 A2.5,2.5 0 0 0 430.00,452 Z" fill="#1f1f1f"/><path d="M453.00,452 A3.5,3.5 0 0 0 460.00,452 Z" fill="#c2c2c2"/><path d="M424.00,474 A3.5,3.5 0 0 1 431.00,474 Z" fill="#cfe05a"/><path d="M425.00,474 A2.5,2.5 0 0 1 430.00,474 Z" fill="#1f1f1f"/><path d="M453.00,474 A3.5,3.5 0 0 1 460.00,474 Z" fill="#c2c2c2"/><text x="422.00" y="467.00" font-size="12" fill="#ffffff" stroke="#ffffff" stroke-width="0.25" text-anchor="start">line~ 1.</text><rect x="435" y="483" width="56" height="21.7" fill="#333333"/><path d="M439.7,496.15000000000003 C441.5,490.35 443.5,490.35 444.7,494.35 S447.7,498.35 450,492.35" fill="none" stroke="#5fd8e4" stroke-width="1.7"/><text x="453.50" y="498.00" font-size="12" fill="#ffffff" stroke="#ffffff" stroke-width="0.25" text-anchor="start">0.</text><rect x="422" y="511" width="43" height="22" fill="#787878"/><rect x="422" y="515" width="43" height="14" fill="#333333"/><path d="M428.00,511 A3.5,3.5 0 0 0 435.00,511 Z" fill="#f2a38e"/><path d="M429.00,511 A2.5,2.5 0 0 0 434.00,511 Z" fill="#1f1f1f"/><path d="M452.00,511 A3.5,3.5 0 0 0 459.00,511 Z" fill="#c2c2c2"/><path d="M428.00,533 A3.5,3.5 0 0 1 435.00,533 Z" fill="#cfe05a"/><path d="M429.00,533 A2.5,2.5 0 0 1 434.00,533 Z" fill="#1f1f1f"/><text x="426.00" y="526.00" font-size="12" fill="#ffffff" stroke="#ffffff" stroke-width="0.25" text-anchor="start">cycle~</text><rect x="428" y="581.5" width="5" height="107.5" fill="#262626"/><rect x="434" y="581.5" width="5" height="107.5" fill="#262626"/><rect x="428" y="591.0" width="11" height="1" fill="#e5e5e5"/><path d="M439.5,591.2 L448.5,586.5 L448.5,595.9 Z" fill="#9c9c9c" stroke="#7c7c7c" stroke-width="0.8"/><rect x="585" y="216" width="35" height="19" fill="#dcdcdc"/><path d="M588.6,220 L594.7,225.3 L588.6,230.5 Z" fill="#7a7a7a"/><text x="596.00" y="228.30" font-size="9.2" fill="#2a2410" stroke="#2a2410" stroke-width="0.15" text-anchor="start">0</text><rect x="634" y="216" width="35" height="19" fill="#dcdcdc"/><path d="M637.6,220 L643.7,225.3 L637.6,230.5 Z" fill="#7a7a7a"/><text x="645.00" y="228.30" font-size="9.2" fill="#2a2410" stroke="#2a2410" stroke-width="0.15" text-anchor="start">0</text><rect x="601" y="247" width="43" height="19" fill="#787878"/><rect x="601" y="251" width="43" height="11" fill="#333333"/><path d="M607.00,247 A3.5,3.5 0 0 0 614.00,247 Z" fill="#f2a38e"/><path d="M608.00,247 A2.5,2.5 0 0 0 613.00,247 Z" fill="#1f1f1f"/><path d="M631.00,247 A3.5,3.5 0 0 0 638.00,247 Z" fill="#f2a38e"/><path d="M632.00,247 A2.5,2.5 0 0 0 637.00,247 Z" fill="#1f1f1f"/><path d="M607.00,266 A3.5,3.5 0 0 1 614.00,266 Z" fill="#cfe05a"/><path d="M608.00,266 A2.5,2.5 0 0 1 613.00,266 Z" fill="#1f1f1f"/><text x="605.00" y="259.00" font-size="9" fill="#ffffff" stroke="#ffffff" stroke-width="0.25" text-anchor="start">pak 0 0</text><rect x="601" y="270" width="27" height="19" fill="#787878"/><rect x="601" y="274" width="27" height="11" fill="#333333"/><path d="M607.00,270 A3.5,3.5 0 0 0 614.00,270 Z" fill="#f2a38e"/><path d="M608.00,270 A2.5,2.5 0 0 0 613.00,270 Z" fill="#1f1f1f"/><path d="M615.00,270 A3.5,3.5 0 0 0 622.00,270 Z" fill="#c2c2c2"/><path d="M607.00,289 A3.5,3.5 0 0 1 614.00,289 Z" fill="#cfe05a"/><path d="M608.00,289 A2.5,2.5 0 0 1 613.00,289 Z" fill="#1f1f1f"/><text x="605.00" y="282.00" font-size="9" fill="#ffffff" stroke="#ffffff" stroke-width="0.25" text-anchor="start">!-</text><rect x="601" y="290" width="27" height="19" fill="#787878"/><rect x="601" y="294" width="27" height="11" fill="#333333"/><path d="M607.00,290 A3.5,3.5 0 0 0 614.00,290 Z" fill="#f2a38e"/><path d="M608.00,290 A2.5,2.5 0 0 0 613.00,290 Z" fill="#1f1f1f"/><path d="M615.00,290 A3.5,3.5 0 0 0 622.00,290 Z" fill="#c2c2c2"/><path d="M607.00,309 A3.5,3.5 0 0 1 614.00,309 Z" fill="#cfe05a"/><path d="M608.00,309 A2.5,2.5 0 0 1 613.00,309 Z" fill="#1f1f1f"/><text x="605.00" y="302.00" font-size="9" fill="#ffffff" stroke="#ffffff" stroke-width="0.25" text-anchor="start">+ 1</text><rect x="568" y="313" width="43" height="19" fill="#787878"/><rect x="568" y="317" width="43" height="11" fill="#333333"/><path d="M574.00,313 A3.5,3.5 0 0 0 581.00,313 Z" fill="#f2a38e"/><path d="M575.00,313 A2.5,2.5 0 0 0 580.00,313 Z" fill="#1f1f1f"/><path d="M598.00,313 A3.5,3.5 0 0 0 605.00,313 Z" fill="#76d3e3"/><path d="M599.00,313 A2.5,2.5 0 0 0 604.00,313 Z" fill="#1f1f1f"/><path d="M574.00,332 A3.5,3.5 0 0 1 581.00,332 Z" fill="#cfe05a"/><path d="M575.00,332 A2.5,2.5 0 0 1 580.00,332 Z" fill="#1f1f1f"/><text x="572.00" y="325.00" font-size="9" fill="#ffffff" stroke="#ffffff" stroke-width="0.25" text-anchor="start">random</text><rect x="568" y="336" width="27" height="19" fill="#787878"/><rect x="568" y="340" width="27" height="11" fill="#333333"/><path d="M574.00,336 A3.5,3.5 0 0 0 581.00,336 Z" fill="#f2a38e"/><path d="M575.00,336 A2.5,2.5 0 0 0 580.00,336 Z" fill="#1f1f1f"/><path d="M582.00,336 A3.5,3.5 0 0 0 589.00,336 Z" fill="#76d3e3"/><path d="M583.00,336 A2.5,2.5 0 0 0 588.00,336 Z" fill="#1f1f1f"/><path d="M574.00,355 A3.5,3.5 0 0 1 581.00,355 Z" fill="#cfe05a"/><path d="M575.00,355 A2.5,2.5 0 0 1 580.00,355 Z" fill="#1f1f1f"/><text x="572.00" y="348.00" font-size="9" fill="#ffffff" stroke="#ffffff" stroke-width="0.25" text-anchor="start">+</text><rect x="568" y="390.8" width="50" height="22" fill="#333333"/><path d="M572,395.8 L578,401.8 L572,407.8 Z" fill="#7a7a7a"/><text x="579.50" y="405.80" font-size="12" fill="#ffffff" stroke="#ffffff" stroke-width="0.25" text-anchor="start">0</text><rect x="568" y="422.1" width="59" height="21.7" rx="5" ry="5" fill="url(#mg)"/><text x="572.00" y="436.90" font-size="12" fill="#ffffff" stroke="#ffffff" stroke-width="0.25" text-anchor="start">$1 50000</text><rect x="571" y="452" width="48" height="22" fill="#787878"/><rect x="571" y="456" width="48" height="14" fill="#333333"/><path d="M577.00,452 A3.5,3.5 0 0 0 584.00,452 Z" fill="#f2a38e"/><path d="M578.00,452 A2.5,2.5 0 0 0 583.00,452 Z" fill="#1f1f1f"/><path d="M606.00,452 A3.5,3.5 0 0 0 613.00,452 Z" fill="#c2c2c2"/><path d="M577.00,474 A3.5,3.5 0 0 1 584.00,474 Z" fill="#cfe05a"/><path d="M578.00,474 A2.5,2.5 0 0 1 583.00,474 Z" fill="#1f1f1f"/><path d="M606.00,474 A3.5,3.5 0 0 1 613.00,474 Z" fill="#c2c2c2"/><text x="575.00" y="467.00" font-size="12" fill="#ffffff" stroke="#ffffff" stroke-width="0.25" text-anchor="start">line~ 1.</text><rect x="594" y="483.3" width="56" height="21.7" fill="#333333"/><path d="M598.7,496.45000000000005 C600.5,490.65000000000003 602.5,490.65000000000003 603.7,494.65000000000003 S606.7,498.65000000000003 609,492.65000000000003" fill="none" stroke="#5fd8e4" stroke-width="1.7"/><text x="612.50" y="498.30" font-size="12" fill="#ffffff" stroke="#ffffff" stroke-width="0.25" text-anchor="start">0.</text><rect x="571.4" y="511.7" width="43" height="22" fill="#787878"/><rect x="571.4" y="515.7" width="43" height="14" fill="#333333"/><path d="M577.40,511.7 A3.5,3.5 0 0 0 584.40,511.7 Z" fill="#f2a38e"/><path d="M578.40,511.7 A2.5,2.5 0 0 0 583.40,511.7 Z" fill="#1f1f1f"/><path d="M601.40,511.7 A3.5,3.5 0 0 0 608.40,511.7 Z" fill="#c2c2c2"/><path d="M577.40,533.7 A3.5,3.5 0 0 1 584.40,533.7 Z" fill="#cfe05a"/><path d="M578.40,533.7 A2.5,2.5 0 0 1 583.40,533.7 Z" fill="#1f1f1f"/><text x="575.40" y="526.70" font-size="12" fill="#ffffff" stroke="#ffffff" stroke-width="0.25" text-anchor="start">cycle~</text><rect x="575" y="587.6" width="5" height="108" fill="#262626"/><rect x="581" y="587.6" width="5" height="108" fill="#262626"/><rect x="575" y="597.1" width="11" height="1" fill="#e5e5e5"/><path d="M586.5,597.3000000000001 L595.5,592.6 L595.5,602.0 Z" fill="#9c9c9c" stroke="#7c7c7c" stroke-width="0.8"/><rect x="741" y="134" width="15" height="15" fill="#333333" stroke="#292929" stroke-width="0.6"/><circle cx="748.5" cy="141.5" r="4.6" fill="none" stroke="#5a5a5a" stroke-width="1.1"/><rect x="754" y="216" width="35" height="19" fill="#dcdcdc"/><path d="M757.6,220 L763.7,225.3 L757.6,230.5 Z" fill="#7a7a7a"/><text x="765.00" y="228.30" font-size="9.2" fill="#2a2410" stroke="#2a2410" stroke-width="0.15" text-anchor="start">0</text><rect x="809" y="216" width="35" height="19" fill="#dcdcdc"/><path d="M812.6,220 L818.7,225.3 L812.6,230.5 Z" fill="#7a7a7a"/><text x="820.00" y="228.30" font-size="9.2" fill="#2a2410" stroke="#2a2410" stroke-width="0.15" text-anchor="start">0</text><rect x="774" y="247" width="43" height="19" fill="#787878"/><rect x="774" y="251" width="43" height="11" fill="#333333"/><path d="M780.00,247 A3.5,3.5 0 0 0 787.00,247 Z" fill="#f2a38e"/><path d="M781.00,247 A2.5,2.5 0 0 0 786.00,247 Z" fill="#1f1f1f"/><path d="M804.00,247 A3.5,3.5 0 0 0 811.00,247 Z" fill="#f2a38e"/><path d="M805.00,247 A2.5,2.5 0 0 0 810.00,247 Z" fill="#1f1f1f"/><path d="M780.00,266 A3.5,3.5 0 0 1 787.00,266 Z" fill="#cfe05a"/><path d="M781.00,266 A2.5,2.5 0 0 1 786.00,266 Z" fill="#1f1f1f"/><text x="778.00" y="259.00" font-size="9" fill="#ffffff" stroke="#ffffff" stroke-width="0.25" text-anchor="start">pak 0 0</text><rect x="774" y="270" width="27" height="19" fill="#787878"/><rect x="774" y="274" width="27" height="11" fill="#333333"/><path d="M780.00,270 A3.5,3.5 0 0 0 787.00,270 Z" fill="#f2a38e"/><path d="M781.00,270 A2.5,2.5 0 0 0 786.00,270 Z" fill="#1f1f1f"/><path d="M788.00,270 A3.5,3.5 0 0 0 795.00,270 Z" fill="#c2c2c2"/><path d="M780.00,289 A3.5,3.5 0 0 1 787.00,289 Z" fill="#cfe05a"/><path d="M781.00,289 A2.5,2.5 0 0 1 786.00,289 Z" fill="#1f1f1f"/><text x="778.00" y="282.00" font-size="9" fill="#ffffff" stroke="#ffffff" stroke-width="0.25" text-anchor="start">!-</text><rect x="774" y="290" width="27" height="19" fill="#787878"/><rect x="774" y="294" width="27" height="11" fill="#333333"/><path d="M780.00,290 A3.5,3.5 0 0 0 787.00,290 Z" fill="#f2a38e"/><path d="M781.00,290 A2.5,2.5 0 0 0 786.00,290 Z" fill="#1f1f1f"/><path d="M788.00,290 A3.5,3.5 0 0 0 795.00,290 Z" fill="#c2c2c2"/><path d="M780.00,309 A3.5,3.5 0 0 1 787.00,309 Z" fill="#cfe05a"/><path d="M781.00,309 A2.5,2.5 0 0 1 786.00,309 Z" fill="#1f1f1f"/><text x="778.00" y="302.00" font-size="9" fill="#ffffff" stroke="#ffffff" stroke-width="0.25" text-anchor="start">+ 1</text><rect x="741" y="313" width="43" height="19" fill="#787878"/><rect x="741" y="317" width="43" height="11" fill="#333333"/><path d="M747.00,313 A3.5,3.5 0 0 0 754.00,313 Z" fill="#f2a38e"/><path d="M748.00,313 A2.5,2.5 0 0 0 753.00,313 Z" fill="#1f1f1f"/><path d="M771.00,313 A3.5,3.5 0 0 0 778.00,313 Z" fill="#76d3e3"/><path d="M772.00,313 A2.5,2.5 0 0 0 777.00,313 Z" fill="#1f1f1f"/><path d="M747.00,332 A3.5,3.5 0 0 1 754.00,332 Z" fill="#cfe05a"/><path d="M748.00,332 A2.5,2.5 0 0 1 753.00,332 Z" fill="#1f1f1f"/><text x="745.00" y="325.00" font-size="9" fill="#ffffff" stroke="#ffffff" stroke-width="0.25" text-anchor="start">random</text><rect x="741" y="336" width="27" height="19" fill="#787878"/><rect x="741" y="340" width="27" height="11" fill="#333333"/><path d="M747.00,336 A3.5,3.5 0 0 0 754.00,336 Z" fill="#f2a38e"/><path d="M748.00,336 A2.5,2.5 0 0 0 753.00,336 Z" fill="#1f1f1f"/><path d="M755.00,336 A3.5,3.5 0 0 0 762.00,336 Z" fill="#76d3e3"/><path d="M756.00,336 A2.5,2.5 0 0 0 761.00,336 Z" fill="#1f1f1f"/><path d="M747.00,355 A3.5,3.5 0 0 1 754.00,355 Z" fill="#cfe05a"/><path d="M748.00,355 A2.5,2.5 0 0 1 753.00,355 Z" fill="#1f1f1f"/><text x="745.00" y="348.00" font-size="9" fill="#ffffff" stroke="#ffffff" stroke-width="0.25" text-anchor="start">+</text><rect x="741" y="381" width="50" height="22" fill="#333333"/><path d="M745,386 L751,392.0 L745,398 Z" fill="#7a7a7a"/><text x="752.50" y="396.00" font-size="12" fill="#ffffff" stroke="#ffffff" stroke-width="0.25" text-anchor="start">0</text><rect x="741" y="414" width="59" height="21.7" rx="5" ry="5" fill="url(#mg)"/><text x="745.00" y="428.80" font-size="12" fill="#ffffff" stroke="#ffffff" stroke-width="0.25" text-anchor="start">$1 60000</text><rect x="741" y="447.3" width="48" height="22" fill="#787878"/><rect x="741" y="451.3" width="48" height="14" fill="#333333"/><path d="M747.00,447.3 A3.5,3.5 0 0 0 754.00,447.3 Z" fill="#f2a38e"/><path d="M748.00,447.3 A2.5,2.5 0 0 0 753.00,447.3 Z" fill="#1f1f1f"/><path d="M776.00,447.3 A3.5,3.5 0 0 0 783.00,447.3 Z" fill="#c2c2c2"/><path d="M747.00,469.3 A3.5,3.5 0 0 1 754.00,469.3 Z" fill="#cfe05a"/><path d="M748.00,469.3 A2.5,2.5 0 0 1 753.00,469.3 Z" fill="#1f1f1f"/><path d="M776.00,469.3 A3.5,3.5 0 0 1 783.00,469.3 Z" fill="#c2c2c2"/><text x="745.00" y="462.30" font-size="12" fill="#ffffff" stroke="#ffffff" stroke-width="0.25" text-anchor="start">line~ 1.</text><rect x="758" y="490" width="56" height="21.7" fill="#333333"/><path d="M762.7,503.15000000000003 C764.5,497.35 766.5,497.35 767.7,501.35 S770.7,505.35 773,499.35" fill="none" stroke="#5fd8e4" stroke-width="1.7"/><text x="776.50" y="505.00" font-size="12" fill="#ffffff" stroke="#ffffff" stroke-width="0.25" text-anchor="start">0.</text><rect x="739" y="529.6" width="43" height="22" fill="#787878"/><rect x="739" y="533.6" width="43" height="14" fill="#333333"/><path d="M745.00,529.6 A3.5,3.5 0 0 0 752.00,529.6 Z" fill="#f2a38e"/><path d="M746.00,529.6 A2.5,2.5 0 0 0 751.00,529.6 Z" fill="#1f1f1f"/><path d="M769.00,529.6 A3.5,3.5 0 0 0 776.00,529.6 Z" fill="#c2c2c2"/><path d="M745.00,551.6 A3.5,3.5 0 0 1 752.00,551.6 Z" fill="#cfe05a"/><path d="M746.00,551.6 A2.5,2.5 0 0 1 751.00,551.6 Z" fill="#1f1f1f"/><text x="743.00" y="544.60" font-size="12" fill="#ffffff" stroke="#ffffff" stroke-width="0.25" text-anchor="start">cycle~</text><rect x="749" y="575" width="5" height="106.7" fill="#262626"/><rect x="755" y="575" width="5" height="106.7" fill="#262626"/><rect x="749" y="584.5" width="11" height="1" fill="#e5e5e5"/><path d="M760.5,584.7 L769.5,580 L769.5,589.4 Z" fill="#9c9c9c" stroke="#7c7c7c" stroke-width="0.8"/><rect x="879" y="135" width="15" height="15" fill="#333333" stroke="#292929" stroke-width="0.6"/><circle cx="886.5" cy="142.5" r="4.6" fill="none" stroke="#5a5a5a" stroke-width="1.1"/><rect x="896" y="217" width="35" height="19" fill="#dcdcdc"/><path d="M899.6,221 L905.7,226.3 L899.6,231.5 Z" fill="#7a7a7a"/><text x="907.00" y="229.30" font-size="9.2" fill="#2a2410" stroke="#2a2410" stroke-width="0.15" text-anchor="start">0</text><rect x="947" y="217" width="35" height="19" fill="#dcdcdc"/><path d="M950.6,221 L956.7,226.3 L950.6,231.5 Z" fill="#7a7a7a"/><text x="958.00" y="229.30" font-size="9.2" fill="#2a2410" stroke="#2a2410" stroke-width="0.15" text-anchor="start">0</text><rect x="912" y="248" width="43" height="19" fill="#787878"/><rect x="912" y="252" width="43" height="11" fill="#333333"/><path d="M918.00,248 A3.5,3.5 0 0 0 925.00,248 Z" fill="#f2a38e"/><path d="M919.00,248 A2.5,2.5 0 0 0 924.00,248 Z" fill="#1f1f1f"/><path d="M942.00,248 A3.5,3.5 0 0 0 949.00,248 Z" fill="#f2a38e"/><path d="M943.00,248 A2.5,2.5 0 0 0 948.00,248 Z" fill="#1f1f1f"/><path d="M918.00,267 A3.5,3.5 0 0 1 925.00,267 Z" fill="#cfe05a"/><path d="M919.00,267 A2.5,2.5 0 0 1 924.00,267 Z" fill="#1f1f1f"/><text x="916.00" y="260.00" font-size="9" fill="#ffffff" stroke="#ffffff" stroke-width="0.25" text-anchor="start">pak 0 0</text><rect x="912" y="271" width="27" height="19" fill="#787878"/><rect x="912" y="275" width="27" height="11" fill="#333333"/><path d="M918.00,271 A3.5,3.5 0 0 0 925.00,271 Z" fill="#f2a38e"/><path d="M919.00,271 A2.5,2.5 0 0 0 924.00,271 Z" fill="#1f1f1f"/><path d="M926.00,271 A3.5,3.5 0 0 0 933.00,271 Z" fill="#c2c2c2"/><path d="M918.00,290 A3.5,3.5 0 0 1 925.00,290 Z" fill="#cfe05a"/><path d="M919.00,290 A2.5,2.5 0 0 1 924.00,290 Z" fill="#1f1f1f"/><text x="916.00" y="283.00" font-size="9" fill="#ffffff" stroke="#ffffff" stroke-width="0.25" text-anchor="start">!-</text><rect x="912" y="291" width="27" height="19" fill="#787878"/><rect x="912" y="295" width="27" height="11" fill="#333333"/><path d="M918.00,291 A3.5,3.5 0 0 0 925.00,291 Z" fill="#f2a38e"/><path d="M919.00,291 A2.5,2.5 0 0 0 924.00,291 Z" fill="#1f1f1f"/><path d="M926.00,291 A3.5,3.5 0 0 0 933.00,291 Z" fill="#c2c2c2"/><path d="M918.00,310 A3.5,3.5 0 0 1 925.00,310 Z" fill="#cfe05a"/><path d="M919.00,310 A2.5,2.5 0 0 1 924.00,310 Z" fill="#1f1f1f"/><text x="916.00" y="303.00" font-size="9" fill="#ffffff" stroke="#ffffff" stroke-width="0.25" text-anchor="start">+ 1</text><rect x="879" y="314" width="43" height="19" fill="#787878"/><rect x="879" y="318" width="43" height="11" fill="#333333"/><path d="M885.00,314 A3.5,3.5 0 0 0 892.00,314 Z" fill="#f2a38e"/><path d="M886.00,314 A2.5,2.5 0 0 0 891.00,314 Z" fill="#1f1f1f"/><path d="M909.00,314 A3.5,3.5 0 0 0 916.00,314 Z" fill="#76d3e3"/><path d="M910.00,314 A2.5,2.5 0 0 0 915.00,314 Z" fill="#1f1f1f"/><path d="M885.00,333 A3.5,3.5 0 0 1 892.00,333 Z" fill="#cfe05a"/><path d="M886.00,333 A2.5,2.5 0 0 1 891.00,333 Z" fill="#1f1f1f"/><text x="883.00" y="326.00" font-size="9" fill="#ffffff" stroke="#ffffff" stroke-width="0.25" text-anchor="start">random</text><rect x="879" y="337" width="27" height="19" fill="#787878"/><rect x="879" y="341" width="27" height="11" fill="#333333"/><path d="M885.00,337 A3.5,3.5 0 0 0 892.00,337 Z" fill="#f2a38e"/><path d="M886.00,337 A2.5,2.5 0 0 0 891.00,337 Z" fill="#1f1f1f"/><path d="M893.00,337 A3.5,3.5 0 0 0 900.00,337 Z" fill="#76d3e3"/><path d="M894.00,337 A2.5,2.5 0 0 0 899.00,337 Z" fill="#1f1f1f"/><path d="M885.00,356 A3.5,3.5 0 0 1 892.00,356 Z" fill="#cfe05a"/><path d="M886.00,356 A2.5,2.5 0 0 1 891.00,356 Z" fill="#1f1f1f"/><text x="883.00" y="349.00" font-size="9" fill="#ffffff" stroke="#ffffff" stroke-width="0.25" text-anchor="start">+</text><rect x="879" y="379" width="50" height="22" fill="#333333"/><path d="M883,384 L889,390.0 L883,396 Z" fill="#7a7a7a"/><text x="890.50" y="394.00" font-size="12" fill="#ffffff" stroke="#ffffff" stroke-width="0.25" text-anchor="start">0</text><rect x="879" y="412.4" width="59" height="21.7" rx="5" ry="5" fill="url(#mg)"/><text x="883.00" y="427.20" font-size="12" fill="#ffffff" stroke="#ffffff" stroke-width="0.25" text-anchor="start">$1 50000</text><rect x="879" y="449.5" width="48" height="22" fill="#787878"/><rect x="879" y="453.5" width="48" height="14" fill="#333333"/><path d="M885.00,449.5 A3.5,3.5 0 0 0 892.00,449.5 Z" fill="#f2a38e"/><path d="M886.00,449.5 A2.5,2.5 0 0 0 891.00,449.5 Z" fill="#1f1f1f"/><path d="M914.00,449.5 A3.5,3.5 0 0 0 921.00,449.5 Z" fill="#c2c2c2"/><path d="M885.00,471.5 A3.5,3.5 0 0 1 892.00,471.5 Z" fill="#cfe05a"/><path d="M886.00,471.5 A2.5,2.5 0 0 1 891.00,471.5 Z" fill="#1f1f1f"/><path d="M914.00,471.5 A3.5,3.5 0 0 1 921.00,471.5 Z" fill="#c2c2c2"/><text x="883.00" y="464.50" font-size="12" fill="#ffffff" stroke="#ffffff" stroke-width="0.25" text-anchor="start">line~ 1.</text><rect x="896" y="481.4" width="56" height="21.7" fill="#333333"/><path d="M900.7,494.55 C902.5,488.75 904.5,488.75 905.7,492.75 S908.7,496.75 911,490.75" fill="none" stroke="#5fd8e4" stroke-width="1.7"/><text x="914.50" y="496.40" font-size="12" fill="#ffffff" stroke="#ffffff" stroke-width="0.25" text-anchor="start">0.</text><rect x="883" y="508.7" width="43" height="22" fill="#787878"/><rect x="883" y="512.7" width="43" height="14" fill="#333333"/><path d="M889.00,508.7 A3.5,3.5 0 0 0 896.00,508.7 Z" fill="#f2a38e"/><path d="M890.00,508.7 A2.5,2.5 0 0 0 895.00,508.7 Z" fill="#1f1f1f"/><path d="M913.00,508.7 A3.5,3.5 0 0 0 920.00,508.7 Z" fill="#c2c2c2"/><path d="M889.00,530.7 A3.5,3.5 0 0 1 896.00,530.7 Z" fill="#cfe05a"/><path d="M890.00,530.7 A2.5,2.5 0 0 1 895.00,530.7 Z" fill="#1f1f1f"/><text x="887.00" y="523.70" font-size="12" fill="#ffffff" stroke="#ffffff" stroke-width="0.25" text-anchor="start">cycle~</text><rect x="889.2" y="580" width="5" height="107" fill="#262626"/><rect x="895.2" y="580" width="5" height="107" fill="#262626"/><rect x="889.2" y="589.5" width="11" height="1" fill="#e5e5e5"/><path d="M900.7,589.7 L909.7,585 L909.7,594.4 Z" fill="#9c9c9c" stroke="#7c7c7c" stroke-width="0.8"/><rect x="1050" y="136" width="15" height="15" fill="#333333" stroke="#292929" stroke-width="0.6"/><circle cx="1057.5" cy="143.5" r="4.6" fill="none" stroke="#5a5a5a" stroke-width="1.1"/><rect x="1046" y="214.4" width="35" height="19" fill="#dcdcdc"/><path d="M1049.6,218.4 L1055.7,223.70000000000002 L1049.6,228.9 Z" fill="#7a7a7a"/><text x="1057.00" y="226.70" font-size="9.2" fill="#2a2410" stroke="#2a2410" stroke-width="0.15" text-anchor="start">0</text><rect x="1095" y="214.4" width="35" height="19" fill="#dcdcdc"/><path d="M1098.6,218.4 L1104.7,223.70000000000002 L1098.6,228.9 Z" fill="#7a7a7a"/><text x="1106.00" y="226.70" font-size="9.2" fill="#2a2410" stroke="#2a2410" stroke-width="0.15" text-anchor="start">0</text><rect x="1062" y="245" width="43" height="19" fill="#787878"/><rect x="1062" y="249" width="43" height="11" fill="#333333"/><path d="M1068.00,245 A3.5,3.5 0 0 0 1075.00,245 Z" fill="#f2a38e"/><path d="M1069.00,245 A2.5,2.5 0 0 0 1074.00,245 Z" fill="#1f1f1f"/><path d="M1092.00,245 A3.5,3.5 0 0 0 1099.00,245 Z" fill="#f2a38e"/><path d="M1093.00,245 A2.5,2.5 0 0 0 1098.00,245 Z" fill="#1f1f1f"/><path d="M1068.00,264 A3.5,3.5 0 0 1 1075.00,264 Z" fill="#cfe05a"/><path d="M1069.00,264 A2.5,2.5 0 0 1 1074.00,264 Z" fill="#1f1f1f"/><text x="1066.00" y="257.00" font-size="9" fill="#ffffff" stroke="#ffffff" stroke-width="0.25" text-anchor="start">pak 0 0</text><rect x="1062" y="268" width="27" height="19" fill="#787878"/><rect x="1062" y="272" width="27" height="11" fill="#333333"/><path d="M1068.00,268 A3.5,3.5 0 0 0 1075.00,268 Z" fill="#f2a38e"/><path d="M1069.00,268 A2.5,2.5 0 0 0 1074.00,268 Z" fill="#1f1f1f"/><path d="M1076.00,268 A3.5,3.5 0 0 0 1083.00,268 Z" fill="#c2c2c2"/><path d="M1068.00,287 A3.5,3.5 0 0 1 1075.00,287 Z" fill="#cfe05a"/><path d="M1069.00,287 A2.5,2.5 0 0 1 1074.00,287 Z" fill="#1f1f1f"/><text x="1066.00" y="280.00" font-size="9" fill="#ffffff" stroke="#ffffff" stroke-width="0.25" text-anchor="start">!-</text><rect x="1062" y="288" width="27" height="19" fill="#787878"/><rect x="1062" y="292" width="27" height="11" fill="#333333"/><path d="M1068.00,288 A3.5,3.5 0 0 0 1075.00,288 Z" fill="#f2a38e"/><path d="M1069.00,288 A2.5,2.5 0 0 0 1074.00,288 Z" fill="#1f1f1f"/><path d="M1076.00,288 A3.5,3.5 0 0 0 1083.00,288 Z" fill="#c2c2c2"/><path d="M1068.00,307 A3.5,3.5 0 0 1 1075.00,307 Z" fill="#cfe05a"/><path d="M1069.00,307 A2.5,2.5 0 0 1 1074.00,307 Z" fill="#1f1f1f"/><text x="1066.00" y="300.00" font-size="9" fill="#ffffff" stroke="#ffffff" stroke-width="0.25" text-anchor="start">+ 1</text><rect x="1029" y="311" width="43" height="19" fill="#787878"/><rect x="1029" y="315" width="43" height="11" fill="#333333"/><path d="M1035.00,311 A3.5,3.5 0 0 0 1042.00,311 Z" fill="#f2a38e"/><path d="M1036.00,311 A2.5,2.5 0 0 0 1041.00,311 Z" fill="#1f1f1f"/><path d="M1059.00,311 A3.5,3.5 0 0 0 1066.00,311 Z" fill="#76d3e3"/><path d="M1060.00,311 A2.5,2.5 0 0 0 1065.00,311 Z" fill="#1f1f1f"/><path d="M1035.00,330 A3.5,3.5 0 0 1 1042.00,330 Z" fill="#cfe05a"/><path d="M1036.00,330 A2.5,2.5 0 0 1 1041.00,330 Z" fill="#1f1f1f"/><text x="1033.00" y="323.00" font-size="9" fill="#ffffff" stroke="#ffffff" stroke-width="0.25" text-anchor="start">random</text><rect x="1029" y="334" width="27" height="19" fill="#787878"/><rect x="1029" y="338" width="27" height="11" fill="#333333"/><path d="M1035.00,334 A3.5,3.5 0 0 0 1042.00,334 Z" fill="#f2a38e"/><path d="M1036.00,334 A2.5,2.5 0 0 0 1041.00,334 Z" fill="#1f1f1f"/><path d="M1043.00,334 A3.5,3.5 0 0 0 1050.00,334 Z" fill="#76d3e3"/><path d="M1044.00,334 A2.5,2.5 0 0 0 1049.00,334 Z" fill="#1f1f1f"/><path d="M1035.00,353 A3.5,3.5 0 0 1 1042.00,353 Z" fill="#cfe05a"/><path d="M1036.00,353 A2.5,2.5 0 0 1 1041.00,353 Z" fill="#1f1f1f"/><text x="1033.00" y="346.00" font-size="9" fill="#ffffff" stroke="#ffffff" stroke-width="0.25" text-anchor="start">+</text><rect x="1029" y="388.7" width="50" height="22" fill="#333333"/><path d="M1033,393.7 L1039,399.7 L1033,405.7 Z" fill="#7a7a7a"/><text x="1040.50" y="403.70" font-size="12" fill="#ffffff" stroke="#ffffff" stroke-width="0.25" text-anchor="start">0</text><rect x="1029" y="420.1" width="59" height="21.7" rx="5" ry="5" fill="url(#mg)"/><text x="1033.00" y="434.90" font-size="12" fill="#ffffff" stroke="#ffffff" stroke-width="0.25" text-anchor="start">$1 50000</text><rect x="1032" y="449.4" width="48" height="22" fill="#787878"/><rect x="1032" y="453.4" width="48" height="14" fill="#333333"/><path d="M1038.00,449.4 A3.5,3.5 0 0 0 1045.00,449.4 Z" fill="#f2a38e"/><path d="M1039.00,449.4 A2.5,2.5 0 0 0 1044.00,449.4 Z" fill="#1f1f1f"/><path d="M1067.00,449.4 A3.5,3.5 0 0 0 1074.00,449.4 Z" fill="#c2c2c2"/><path d="M1038.00,471.4 A3.5,3.5 0 0 1 1045.00,471.4 Z" fill="#cfe05a"/><path d="M1039.00,471.4 A2.5,2.5 0 0 1 1044.00,471.4 Z" fill="#1f1f1f"/><path d="M1067.00,471.4 A3.5,3.5 0 0 1 1074.00,471.4 Z" fill="#c2c2c2"/><text x="1036.00" y="464.40" font-size="12" fill="#ffffff" stroke="#ffffff" stroke-width="0.25" text-anchor="start">line~ 1.</text><rect x="1055" y="481.6" width="56" height="21.7" fill="#333333"/><path d="M1059.7,494.75000000000006 C1061.5,488.95000000000005 1063.5,488.95000000000005 1064.7,492.95000000000005 S1067.7,496.95000000000005 1070,490.95000000000005" fill="none" stroke="#5fd8e4" stroke-width="1.7"/><text x="1073.50" y="496.60" font-size="12" fill="#ffffff" stroke="#ffffff" stroke-width="0.25" text-anchor="start">0.</text><rect x="1032" y="508.6" width="43" height="22" fill="#787878"/><rect x="1032" y="512.6" width="43" height="14" fill="#333333"/><path d="M1038.00,508.6 A3.5,3.5 0 0 0 1045.00,508.6 Z" fill="#f2a38e"/><path d="M1039.00,508.6 A2.5,2.5 0 0 0 1044.00,508.6 Z" fill="#1f1f1f"/><path d="M1062.00,508.6 A3.5,3.5 0 0 0 1069.00,508.6 Z" fill="#c2c2c2"/><path d="M1038.00,530.6 A3.5,3.5 0 0 1 1045.00,530.6 Z" fill="#cfe05a"/><path d="M1039.00,530.6 A2.5,2.5 0 0 1 1044.00,530.6 Z" fill="#1f1f1f"/><text x="1036.00" y="523.60" font-size="12" fill="#ffffff" stroke="#ffffff" stroke-width="0.25" text-anchor="start">cycle~</text><rect x="1036" y="562.4" width="5" height="107.4" fill="#262626"/><rect x="1042" y="562.4" width="5" height="107.4" fill="#262626"/><rect x="1036" y="571.9" width="11" height="1" fill="#e5e5e5"/><path d="M1047.5,572.1 L1056.5,567.4 L1056.5,576.8 Z" fill="#9c9c9c" stroke="#7c7c7c" stroke-width="0.8"/><rect x="1202" y="132" width="15" height="15" fill="#333333" stroke="#292929" stroke-width="0.6"/><circle cx="1209.5" cy="139.5" r="4.6" fill="none" stroke="#5a5a5a" stroke-width="1.1"/><rect x="1215" y="214" width="35" height="19" fill="#dcdcdc"/><path d="M1218.6,218 L1224.7,223.3 L1218.6,228.5 Z" fill="#7a7a7a"/><text x="1226.00" y="226.30" font-size="9.2" fill="#2a2410" stroke="#2a2410" stroke-width="0.15" text-anchor="start">0</text><rect x="1270" y="214" width="35" height="19" fill="#dcdcdc"/><path d="M1273.6,218 L1279.7,223.3 L1273.6,228.5 Z" fill="#7a7a7a"/><text x="1281.00" y="226.30" font-size="9.2" fill="#2a2410" stroke="#2a2410" stroke-width="0.15" text-anchor="start">0</text><rect x="1235" y="245" width="43" height="19" fill="#787878"/><rect x="1235" y="249" width="43" height="11" fill="#333333"/><path d="M1241.00,245 A3.5,3.5 0 0 0 1248.00,245 Z" fill="#f2a38e"/><path d="M1242.00,245 A2.5,2.5 0 0 0 1247.00,245 Z" fill="#1f1f1f"/><path d="M1265.00,245 A3.5,3.5 0 0 0 1272.00,245 Z" fill="#f2a38e"/><path d="M1266.00,245 A2.5,2.5 0 0 0 1271.00,245 Z" fill="#1f1f1f"/><path d="M1241.00,264 A3.5,3.5 0 0 1 1248.00,264 Z" fill="#cfe05a"/><path d="M1242.00,264 A2.5,2.5 0 0 1 1247.00,264 Z" fill="#1f1f1f"/><text x="1239.00" y="257.00" font-size="9" fill="#ffffff" stroke="#ffffff" stroke-width="0.25" text-anchor="start">pak 0 0</text><rect x="1235" y="268" width="27" height="19" fill="#787878"/><rect x="1235" y="272" width="27" height="11" fill="#333333"/><path d="M1241.00,268 A3.5,3.5 0 0 0 1248.00,268 Z" fill="#f2a38e"/><path d="M1242.00,268 A2.5,2.5 0 0 0 1247.00,268 Z" fill="#1f1f1f"/><path d="M1249.00,268 A3.5,3.5 0 0 0 1256.00,268 Z" fill="#c2c2c2"/><path d="M1241.00,287 A3.5,3.5 0 0 1 1248.00,287 Z" fill="#cfe05a"/><path d="M1242.00,287 A2.5,2.5 0 0 1 1247.00,287 Z" fill="#1f1f1f"/><text x="1239.00" y="280.00" font-size="9" fill="#ffffff" stroke="#ffffff" stroke-width="0.25" text-anchor="start">!-</text><rect x="1235" y="288" width="27" height="19" fill="#787878"/><rect x="1235" y="292" width="27" height="11" fill="#333333"/><path d="M1241.00,288 A3.5,3.5 0 0 0 1248.00,288 Z" fill="#f2a38e"/><path d="M1242.00,288 A2.5,2.5 0 0 0 1247.00,288 Z" fill="#1f1f1f"/><path d="M1249.00,288 A3.5,3.5 0 0 0 1256.00,288 Z" fill="#c2c2c2"/><path d="M1241.00,307 A3.5,3.5 0 0 1 1248.00,307 Z" fill="#cfe05a"/><path d="M1242.00,307 A2.5,2.5 0 0 1 1247.00,307 Z" fill="#1f1f1f"/><text x="1239.00" y="300.00" font-size="9" fill="#ffffff" stroke="#ffffff" stroke-width="0.25" text-anchor="start">+ 1</text><rect x="1202" y="311" width="43" height="19" fill="#787878"/><rect x="1202" y="315" width="43" height="11" fill="#333333"/><path d="M1208.00,311 A3.5,3.5 0 0 0 1215.00,311 Z" fill="#f2a38e"/><path d="M1209.00,311 A2.5,2.5 0 0 0 1214.00,311 Z" fill="#1f1f1f"/><path d="M1232.00,311 A3.5,3.5 0 0 0 1239.00,311 Z" fill="#76d3e3"/><path d="M1233.00,311 A2.5,2.5 0 0 0 1238.00,311 Z" fill="#1f1f1f"/><path d="M1208.00,330 A3.5,3.5 0 0 1 1215.00,330 Z" fill="#cfe05a"/><path d="M1209.00,330 A2.5,2.5 0 0 1 1214.00,330 Z" fill="#1f1f1f"/><text x="1206.00" y="323.00" font-size="9" fill="#ffffff" stroke="#ffffff" stroke-width="0.25" text-anchor="start">random</text><rect x="1202" y="334" width="27" height="19" fill="#787878"/><rect x="1202" y="338" width="27" height="11" fill="#333333"/><path d="M1208.00,334 A3.5,3.5 0 0 0 1215.00,334 Z" fill="#f2a38e"/><path d="M1209.00,334 A2.5,2.5 0 0 0 1214.00,334 Z" fill="#1f1f1f"/><path d="M1216.00,334 A3.5,3.5 0 0 0 1223.00,334 Z" fill="#76d3e3"/><path d="M1217.00,334 A2.5,2.5 0 0 0 1222.00,334 Z" fill="#1f1f1f"/><path d="M1208.00,353 A3.5,3.5 0 0 1 1215.00,353 Z" fill="#cfe05a"/><path d="M1209.00,353 A2.5,2.5 0 0 1 1214.00,353 Z" fill="#1f1f1f"/><text x="1206.00" y="346.00" font-size="9" fill="#ffffff" stroke="#ffffff" stroke-width="0.25" text-anchor="start">+</text><rect x="1202" y="379" width="50" height="22" fill="#333333"/><path d="M1206,384 L1212,390.0 L1206,396 Z" fill="#7a7a7a"/><text x="1213.50" y="394.00" font-size="12" fill="#ffffff" stroke="#ffffff" stroke-width="0.25" text-anchor="start">0</text><rect x="1202" y="412.4" width="59" height="21.7" rx="5" ry="5" fill="url(#mg)"/><text x="1206.00" y="427.20" font-size="12" fill="#ffffff" stroke="#ffffff" stroke-width="0.25" text-anchor="start">$1 60000</text><rect x="1202" y="444.7" width="48" height="22" fill="#787878"/><rect x="1202" y="448.7" width="48" height="14" fill="#333333"/><path d="M1208.00,444.7 A3.5,3.5 0 0 0 1215.00,444.7 Z" fill="#f2a38e"/><path d="M1209.00,444.7 A2.5,2.5 0 0 0 1214.00,444.7 Z" fill="#1f1f1f"/><path d="M1237.00,444.7 A3.5,3.5 0 0 0 1244.00,444.7 Z" fill="#c2c2c2"/><path d="M1208.00,466.7 A3.5,3.5 0 0 1 1215.00,466.7 Z" fill="#cfe05a"/><path d="M1209.00,466.7 A2.5,2.5 0 0 1 1214.00,466.7 Z" fill="#1f1f1f"/><path d="M1237.00,466.7 A3.5,3.5 0 0 1 1244.00,466.7 Z" fill="#c2c2c2"/><text x="1206.00" y="459.70" font-size="12" fill="#ffffff" stroke="#ffffff" stroke-width="0.25" text-anchor="start">line~ 1.</text><rect x="1219" y="487.6" width="56" height="21.7" fill="#333333"/><path d="M1223.7,500.75000000000006 C1225.5,494.95000000000005 1227.5,494.95000000000005 1228.7,498.95000000000005 S1231.7,502.95000000000005 1234,496.95000000000005" fill="none" stroke="#5fd8e4" stroke-width="1.7"/><text x="1237.50" y="502.60" font-size="12" fill="#ffffff" stroke="#ffffff" stroke-width="0.25" text-anchor="start">0.</text><rect x="1200" y="526" width="43" height="22" fill="#787878"/><rect x="1200" y="530" width="43" height="14" fill="#333333"/><path d="M1206.00,526 A3.5,3.5 0 0 0 1213.00,526 Z" fill="#f2a38e"/><path d="M1207.00,526 A2.5,2.5 0 0 0 1212.00,526 Z" fill="#1f1f1f"/><path d="M1230.00,526 A3.5,3.5 0 0 0 1237.00,526 Z" fill="#c2c2c2"/><path d="M1206.00,548 A3.5,3.5 0 0 1 1213.00,548 Z" fill="#cfe05a"/><path d="M1207.00,548 A2.5,2.5 0 0 1 1212.00,548 Z" fill="#1f1f1f"/><text x="1204.00" y="541.00" font-size="12" fill="#ffffff" stroke="#ffffff" stroke-width="0.25" text-anchor="start">cycle~</text><rect x="1210" y="580" width="5" height="107" fill="#262626"/><rect x="1216" y="580" width="5" height="107" fill="#262626"/><rect x="1210" y="589.5" width="11" height="1" fill="#e5e5e5"/><path d="M1221.5,589.7 L1230.5,585 L1230.5,594.4 Z" fill="#9c9c9c" stroke="#7c7c7c" stroke-width="0.8"/><rect x="246" y="475" width="58" height="22" fill="#787878"/><rect x="246" y="479" width="58" height="14" fill="#333333"/><path d="M252.00,475 A3.5,3.5 0 0 0 259.00,475 Z" fill="#c2c2c2"/><path d="M252.00,497 A3.5,3.5 0 0 1 259.00,497 Z" fill="#cfe05a"/><path d="M253.00,497 A2.5,2.5 0 0 1 258.00,497 Z" fill="#1f1f1f"/><text x="250.00" y="490.00" font-size="12" fill="#ffffff" stroke="#ffffff" stroke-width="0.25" text-anchor="start">loadbang</text><rect x="148" y="509" width="35" height="21.7" rx="5" ry="5" fill="url(#mg)"/><text x="152.00" y="523.80" font-size="12" fill="#ffffff" stroke="#ffffff" stroke-width="0.25" text-anchor="start">open</text><rect x="198" y="509" width="24" height="24" fill="#333333"/><path d="M204,515 L216,527 M216,515 L204,527" stroke="#5c5c5c" stroke-width="1.6"/><rect x="246" y="509" width="41" height="21.7" rx="5" ry="5" fill="url(#mg)"/><text x="250.00" y="523.80" font-size="12" fill="#ffffff" stroke="#ffffff" stroke-width="0.25" text-anchor="start">loop 1</text><rect x="148" y="550" width="82" height="22" fill="#787878"/><rect x="148" y="554" width="82" height="14" fill="#333333"/><path d="M154.00,550 A3.5,3.5 0 0 0 161.00,550 Z" fill="#f2a38e"/><path d="M155.00,550 A2.5,2.5 0 0 0 160.00,550 Z" fill="#1f1f1f"/><path d="M217.00,550 A3.5,3.5 0 0 0 224.00,550 Z" fill="#c2c2c2"/><path d="M154.00,572 A3.5,3.5 0 0 1 161.00,572 Z" fill="#cfe05a"/><path d="M155.00,572 A2.5,2.5 0 0 1 160.00,572 Z" fill="#1f1f1f"/><path d="M164.50,572 A3.5,3.5 0 0 1 171.50,572 Z" fill="#cfe05a"/><path d="M165.50,572 A2.5,2.5 0 0 1 170.50,572 Z" fill="#1f1f1f"/><path d="M175.00,572 A3.5,3.5 0 0 1 182.00,572 Z" fill="#cfe05a"/><path d="M176.00,572 A2.5,2.5 0 0 1 181.00,572 Z" fill="#1f1f1f"/><path d="M185.50,572 A3.5,3.5 0 0 1 192.50,572 Z" fill="#cfe05a"/><path d="M186.50,572 A2.5,2.5 0 0 1 191.50,572 Z" fill="#1f1f1f"/><path d="M196.00,572 A3.5,3.5 0 0 1 203.00,572 Z" fill="#cfe05a"/><path d="M197.00,572 A2.5,2.5 0 0 1 202.00,572 Z" fill="#1f1f1f"/><path d="M206.50,572 A3.5,3.5 0 0 1 213.50,572 Z" fill="#cfe05a"/><path d="M207.50,572 A2.5,2.5 0 0 1 212.50,572 Z" fill="#1f1f1f"/><path d="M217.00,572 A3.5,3.5 0 0 1 224.00,572 Z" fill="#c2c2c2"/><text x="152.00" y="565.00" font-size="12" fill="#ffffff" stroke="#ffffff" stroke-width="0.25" text-anchor="start">sfplay~ 6</text><rect x="215.8" y="624.7" width="5" height="111.2" fill="#262626"/><rect x="221.8" y="624.7" width="5" height="111.2" fill="#262626"/><rect x="227.8" y="624.7" width="5" height="111.2" fill="#262626"/><rect x="233.8" y="624.7" width="5" height="111.2" fill="#262626"/><rect x="239.8" y="624.7" width="5" height="111.2" fill="#262626"/><rect x="245.8" y="624.7" width="5" height="111.2" fill="#262626"/><rect x="215.8" y="634.2" width="35" height="1" fill="#e5e5e5"/><path d="M251.3,634.4000000000001 L260.3,629.7 L260.3,639.1 Z" fill="#9c9c9c" stroke="#7c7c7c" stroke-width="0.8"/><rect x="359" y="900" width="95" height="22" fill="#787878"/><rect x="359" y="904" width="95" height="14" fill="#333333"/><path d="M365.00,900 A3.5,3.5 0 0 0 372.00,900 Z" fill="#f2a38e"/><path d="M366.00,900 A2.5,2.5 0 0 0 371.00,900 Z" fill="#1f1f1f"/><path d="M380.20,900 A3.5,3.5 0 0 0 387.20,900 Z" fill="#f2a38e"/><path d="M381.20,900 A2.5,2.5 0 0 0 386.20,900 Z" fill="#1f1f1f"/><path d="M395.40,900 A3.5,3.5 0 0 0 402.40,900 Z" fill="#f2a38e"/><path d="M396.40,900 A2.5,2.5 0 0 0 401.40,900 Z" fill="#1f1f1f"/><path d="M410.60,900 A3.5,3.5 0 0 0 417.60,900 Z" fill="#f2a38e"/><path d="M411.60,900 A2.5,2.5 0 0 0 416.60,900 Z" fill="#1f1f1f"/><path d="M425.80,900 A3.5,3.5 0 0 0 432.80,900 Z" fill="#f2a38e"/><path d="M426.80,900 A2.5,2.5 0 0 0 431.80,900 Z" fill="#1f1f1f"/><path d="M441.00,900 A3.5,3.5 0 0 0 448.00,900 Z" fill="#f2a38e"/><path d="M442.00,900 A2.5,2.5 0 0 0 447.00,900 Z" fill="#1f1f1f"/><text x="363.00" y="915.00" font-size="12" fill="#ffffff" stroke="#ffffff" stroke-width="0.25" text-anchor="start">dac~ 1 2 3 4 5 6</text><rect x="239" y="906" width="24" height="24" fill="#333333"/><path d="M245,912 L257,924 M257,912 L245,924" stroke="#5c5c5c" stroke-width="1.6"/></g>
</svg>
<svg class="cm" width="1376" height="950" viewBox="0 0 1376 950"><text x="419.00" y="62.00" font-size="9" fill="#000000" stroke="#000000" stroke-width="0.0" text-anchor="start">random number</text><text x="419.00" y="72.00" font-size="9" fill="#000000" stroke="#000000" stroke-width="0.0" text-anchor="start">between low and high</text><text x="419.00" y="82.00" font-size="9" fill="#000000" stroke="#000000" stroke-width="0.0" text-anchor="start">given above</text><text x="575.40" y="79.00" font-size="9" fill="#000000" stroke="#000000" stroke-width="0.0" text-anchor="start">BANG HERE TO</text><text x="575.40" y="89.00" font-size="9" fill="#000000" stroke="#000000" stroke-width="0.0" text-anchor="start">CHANGE</text><text x="575.40" y="99.00" font-size="9" fill="#000000" stroke="#000000" stroke-width="0.0" text-anchor="start">FREQUENCIES</text><text x="438.00" y="149.50" font-size="9" fill="#000000" stroke="#000000" stroke-width="0.0" text-anchor="start">get random int...</text><text x="438.70" y="184.80" font-size="9" fill="#000000" stroke="#000000" stroke-width="0.0" text-anchor="start">output random number</text><text x="438.70" y="195.00" font-size="9" fill="#000000" stroke="#000000" stroke-width="0.0" text-anchor="start">between...</text><text x="438.70" y="213.80" font-size="9" fill="#000000" stroke="#000000" stroke-width="0.0" text-anchor="start">low</text><text x="490.00" y="213.80" font-size="9" fill="#000000" stroke="#000000" stroke-width="0.0" text-anchor="start">high</text><text x="433.50" y="577.30" font-size="9" fill="#000000" stroke="#000000" stroke-width="0.0" text-anchor="middle">live.gain~</text><text x="433.50" y="701.90" font-size="9" fill="#000000" stroke="#000000" stroke-width="0.0" text-anchor="middle">0.0 dB</text><text x="589.00" y="182.00" font-size="9" fill="#000000" stroke="#000000" stroke-width="0.0" text-anchor="start">output random number</text><text x="589.00" y="192.20" font-size="9" fill="#000000" stroke="#000000" stroke-width="0.0" text-anchor="start">between...</text><text x="589.00" y="211.00" font-size="9" fill="#000000" stroke="#000000" stroke-width="0.0" text-anchor="start">low</text><text x="637.70" y="211.00" font-size="9" fill="#000000" stroke="#000000" stroke-width="0.0" text-anchor="start">high</text><text x="580.50" y="582.30" font-size="9" fill="#000000" stroke="#000000" stroke-width="0.0" text-anchor="middle">live.gain~</text><text x="580.50" y="708.00" font-size="9" fill="#000000" stroke="#000000" stroke-width="0.0" text-anchor="middle">0.0 dB</text><text x="761.00" y="146.50" font-size="9" fill="#000000" stroke="#000000" stroke-width="0.0" text-anchor="start">get random int...</text><text x="761.70" y="182.40" font-size="9" fill="#000000" stroke="#000000" stroke-width="0.0" text-anchor="start">output random number</text><text x="761.70" y="192.60" font-size="9" fill="#000000" stroke="#000000" stroke-width="0.0" text-anchor="start">between...</text><text x="761.70" y="211.00" font-size="9" fill="#000000" stroke="#000000" stroke-width="0.0" text-anchor="start">low</text><text x="812.80" y="211.00" font-size="9" fill="#000000" stroke="#000000" stroke-width="0.0" text-anchor="start">high</text><text x="754.50" y="569.80" font-size="9" fill="#000000" stroke="#000000" stroke-width="0.0" text-anchor="middle">live.gain~</text><text x="754.50" y="695.00" font-size="9" fill="#000000" stroke="#000000" stroke-width="0.0" text-anchor="middle">0.0 dB</text><text x="899.00" y="147.30" font-size="9" fill="#000000" stroke="#000000" stroke-width="0.0" text-anchor="start">get random int...</text><text x="899.70" y="183.20" font-size="9" fill="#000000" stroke="#000000" stroke-width="0.0" text-anchor="start">output random number</text><text x="899.70" y="193.40" font-size="9" fill="#000000" stroke="#000000" stroke-width="0.0" text-anchor="start">between...</text><text x="899.70" y="212.00" font-size="9" fill="#000000" stroke="#000000" stroke-width="0.0" text-anchor="start">low</text><text x="951.00" y="212.00" font-size="9" fill="#000000" stroke="#000000" stroke-width="0.0" text-anchor="start">high</text><text x="894.70" y="574.70" font-size="9" fill="#000000" stroke="#000000" stroke-width="0.0" text-anchor="middle">live.gain~</text><text x="894.70" y="699.90" font-size="9" fill="#000000" stroke="#000000" stroke-width="0.0" text-anchor="middle">0.0 dB</text><text x="1050.00" y="180.50" font-size="9" fill="#000000" stroke="#000000" stroke-width="0.0" text-anchor="start">output random number</text><text x="1050.00" y="190.70" font-size="9" fill="#000000" stroke="#000000" stroke-width="0.0" text-anchor="start">between...</text><text x="1050.00" y="209.00" font-size="9" fill="#000000" stroke="#000000" stroke-width="0.0" text-anchor="start">low</text><text x="1099.00" y="209.00" font-size="9" fill="#000000" stroke="#000000" stroke-width="0.0" text-anchor="start">high</text><text x="1041.50" y="557.00" font-size="9" fill="#000000" stroke="#000000" stroke-width="0.0" text-anchor="middle">live.gain~</text><text x="1041.50" y="682.00" font-size="9" fill="#000000" stroke="#000000" stroke-width="0.0" text-anchor="middle">0.0 dB</text><text x="1222.00" y="144.00" font-size="9" fill="#000000" stroke="#000000" stroke-width="0.0" text-anchor="start">get random int...</text><text x="1223.00" y="180.00" font-size="9" fill="#000000" stroke="#000000" stroke-width="0.0" text-anchor="start">output random number</text><text x="1223.00" y="190.20" font-size="9" fill="#000000" stroke="#000000" stroke-width="0.0" text-anchor="start">between...</text><text x="1223.00" y="208.50" font-size="9" fill="#000000" stroke="#000000" stroke-width="0.0" text-anchor="start">low</text><text x="1274.00" y="208.50" font-size="9" fill="#000000" stroke="#000000" stroke-width="0.0" text-anchor="start">high</text><text x="1215.50" y="575.00" font-size="9" fill="#000000" stroke="#000000" stroke-width="0.0" text-anchor="middle">live.gain~</text><text x="1215.50" y="699.00" font-size="9" fill="#000000" stroke="#000000" stroke-width="0.0" text-anchor="middle">0.0 dB</text><text x="1278.00" y="423.00" font-size="9" fill="#000000" stroke="#000000" stroke-width="0.0" text-anchor="start">Interpolation duration</text><text x="233.30" y="619.70" font-size="9" fill="#000000" stroke="#000000" stroke-width="0.0" text-anchor="middle">live.gain~</text><text x="233.30" y="748.80" font-size="9" fill="#000000" stroke="#000000" stroke-width="0.0" text-anchor="middle">0.0 dB</text></svg></body></html>
